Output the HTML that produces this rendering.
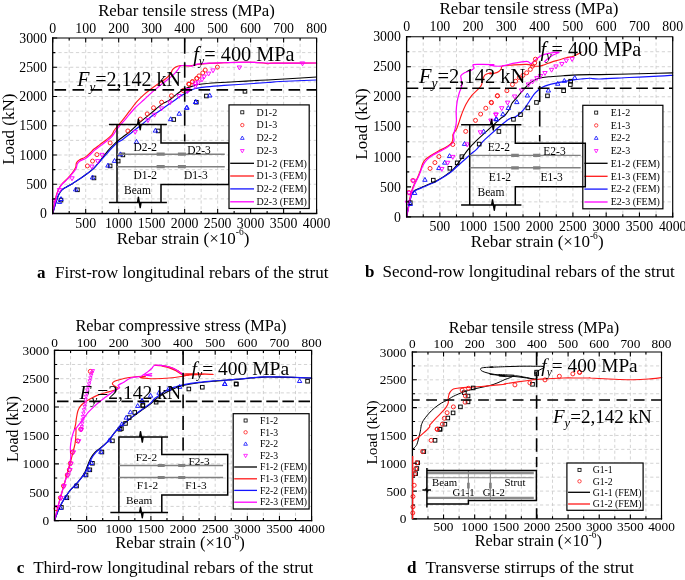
<!DOCTYPE html>
<html lang="en"><head><meta charset="utf-8"><title>Rebar strain figure</title>
<style>
html,body{margin:0;padding:0;background:#fff;}
svg{display:block;will-change:transform;}
svg text{font-family:"Liberation Serif", "Times New Roman", serif;fill:#000;}
</style></head><body>
<svg width="685" height="580" viewBox="0 0 685 580">
<rect x="0" y="0" width="685" height="580" fill="#fff"/>
<g id="panel-a">
<path d="M69.19,38 V213.5 M85.69,38 V213.5 M102.18,38 V213.5 M118.68,38 V213.5 M135.17,38 V213.5 M151.66,38 V213.5 M168.16,38 V213.5 M184.65,38 V213.5 M201.14,38 V213.5 M217.64,38 V213.5 M234.13,38 V213.5 M250.62,38 V213.5 M267.12,38 V213.5 M283.61,38 V213.5 M300.11,38 V213.5 M52.7,198.88 H316.6 M52.7,184.25 H316.6 M52.7,169.62 H316.6 M52.7,155 H316.6 M52.7,140.38 H316.6 M52.7,125.75 H316.6 M52.7,111.12 H316.6 M52.7,96.5 H316.6 M52.7,81.88 H316.6 M52.7,67.25 H316.6 M52.7,52.62 H316.6 " fill="none" stroke="#c8c8c8" stroke-width="0.8" stroke-dasharray="3.2,2.6"/>
<path d="M52.64,213.58 C52.93,212.6 53.74,209.91 54.4,207.71 C55.06,205.51 55.87,202.58 56.6,200.38 C57.33,198.18 57.94,196.23 58.8,194.52 C59.65,192.81 60.51,191.34 61.73,190.12 C62.95,188.9 64.42,188.21 66.13,187.18 C67.84,186.16 69.79,185.3 71.99,183.96 C74.19,182.61 76.88,180.78 79.33,179.12 C81.77,177.46 84.21,175.82 86.66,173.99 C89.1,172.16 91.67,170.44 93.99,168.12 C96.31,165.8 98.14,163.11 100.59,160.06 C103.03,157 106.33,152.48 108.65,149.79 C110.97,147.11 112.56,145.76 114.52,143.93 C116.47,142.1 117.91,140.79 120.38,138.8 C122.85,136.81 126.37,134.46 129.33,131.98 C132.28,129.5 135.19,126.48 138.12,123.91 C141.06,121.35 143.99,119.03 146.92,116.58 C149.85,114.14 153.03,111.45 155.72,109.25 C158.41,107.05 160.85,104.85 163.05,103.39 C165.25,101.92 166.72,101.92 168.91,100.45 C171.11,98.99 174.05,96.3 176.25,94.59 C178.45,92.88 180.16,91.36 182.11,90.19 C184.07,89.02 186.02,88.28 187.98,87.55 C189.93,86.82 192.73,86.19 193.84,85.79 C194.96,85.39 193.3,85.46 194.66,85.16 C196.02,84.86 198.33,84.38 201.99,83.99 C205.66,83.6 210.55,83.23 216.66,82.82 C222.77,82.4 231.32,81.91 238.65,81.5 C245.98,81.08 253.75,80.69 260.65,80.32 C267.54,79.96 270.67,79.85 280,79.3 C289.33,78.74 310.5,77.38 316.6,77" fill="none" stroke="#000" stroke-width="1.1" stroke-linejoin="round" stroke-linecap="round" />
<path d="M52.64,213.58 C52.93,211.87 53.74,206.49 54.4,203.31 C55.06,200.14 55.87,196.96 56.6,194.52 C57.33,192.07 57.94,190.36 58.8,188.65 C59.65,186.94 60.26,185.96 61.73,184.25 C63.2,182.54 65.88,180.22 67.6,178.39 C69.31,176.55 70.65,175.09 71.99,173.26 C73.34,171.42 74.93,169.1 75.66,167.39 C76.39,165.68 75.78,164.21 76.39,162.99 C77,161.77 77.86,161.04 79.33,160.06 C80.79,159.08 83.48,158.23 85.19,157.13 C86.9,156.03 88.12,154.8 89.59,153.46 C91.06,152.12 92.28,150.53 93.99,149.06 C95.7,147.6 97.9,146.13 99.85,144.66 C101.81,143.2 103.76,141.85 105.72,140.26 C107.67,138.68 110.09,136.88 111.58,135.13 C113.07,133.38 112.93,132.14 114.66,129.78 C116.4,127.42 119.55,124.04 121.99,120.98 C124.44,117.93 126.88,114.63 129.33,111.45 C131.77,108.27 134.21,104.73 136.66,101.92 C139.1,99.11 141.54,96.79 143.99,94.59 C146.43,92.39 148.88,90.56 151.32,88.72 C153.76,86.89 156.21,85.3 158.65,83.59 C161.09,81.88 164.03,80.05 165.98,78.46 C167.94,76.87 169.28,75.53 170.38,74.06 C171.48,72.6 171.6,70.88 172.58,69.66 C173.56,68.44 174.9,67.41 176.25,66.73 C177.59,66.05 178.69,65.68 180.65,65.56 C182.6,65.43 185.78,66.05 187.98,66 C190.18,65.95 192.24,65.54 193.84,65.26 C195.44,64.99 195.01,64.67 197.6,64.34 C200.18,64.02 204.93,63.58 209.33,63.31 C213.72,63.04 219.1,62.9 223.99,62.73 C228.88,62.56 233.76,62.36 238.65,62.29 C243.54,62.21 249.16,62.17 253.31,62.29 C257.47,62.41 261.13,62.78 263.58,63.02 C266.02,63.26 266.75,63.73 267.98,63.75 C269.2,63.78 268.91,63.26 270.91,63.17 C272.91,63.07 272.38,63.2 280,63.17 C287.62,63.14 310.5,63.03 316.6,63" fill="none" stroke="#ff1a1a" stroke-width="1.15" stroke-linejoin="round" stroke-linecap="round" />
<path d="M52.64,213.58 C52.93,212.6 53.74,209.91 54.4,207.71 C55.06,205.51 55.87,202.58 56.6,200.38 C57.33,198.18 57.94,196.23 58.8,194.52 C59.65,192.81 60.51,191.34 61.73,190.12 C62.95,188.9 64.42,188.21 66.13,187.18 C67.84,186.16 69.79,185.3 71.99,183.96 C74.19,182.61 76.88,180.78 79.33,179.12 C81.77,177.46 84.21,175.82 86.66,173.99 C89.1,172.16 91.79,170.2 93.99,168.12 C96.19,166.05 97.9,163.72 99.85,161.52 C101.81,159.33 103.76,157.13 105.72,154.93 C107.67,152.73 109.63,150.41 111.58,148.33 C113.54,146.25 115.71,143.84 117.45,142.46 C119.18,141.08 119.53,141.79 121.99,140.04 C124.46,138.3 128.84,134.67 132.26,131.98 C135.68,129.29 139.35,126.48 142.52,123.91 C145.7,121.35 148.63,118.66 151.32,116.58 C154.01,114.51 156.21,113.16 158.65,111.45 C161.09,109.74 163.54,108.03 165.98,106.32 C168.43,104.61 170.87,102.9 173.31,101.19 C175.76,99.48 178.2,97.64 180.65,96.06 C183.09,94.47 185.78,92.83 187.98,91.66 C190.18,90.48 192.24,89.61 193.84,89.02 C195.44,88.42 195.5,88.44 197.6,88.09 C199.69,87.74 201.99,87.36 206.39,86.92 C210.79,86.48 217.39,85.94 223.99,85.45 C230.59,84.97 238.65,84.48 245.98,83.99 C253.31,83.5 262.31,82.94 267.98,82.52 C273.65,82.11 271.9,81.92 280,81.5 C288.1,81.08 310.5,80.25 316.6,80" fill="none" stroke="#1414ff" stroke-width="1.2" stroke-linejoin="round" stroke-linecap="round" />
<path d="M52.64,213.58 C52.98,211.87 53.98,206.49 54.69,203.31 C55.4,200.14 56.16,196.96 56.89,194.52 C57.62,192.07 58.24,190.36 59.09,188.65 C59.95,186.94 60.56,185.91 62.02,184.25 C63.49,182.59 66.18,180.44 67.89,178.68 C69.6,176.92 70.92,175.41 72.29,173.7 C73.66,171.98 75.27,170.03 76.1,168.42 C76.93,166.8 76.61,165.24 77.27,164.02 C77.93,162.8 78.62,162.06 80.06,161.09 C81.5,160.11 84.21,159.25 85.92,158.15 C87.63,157.05 88.86,155.83 90.32,154.49 C91.79,153.14 93.01,151.55 94.72,150.09 C96.43,148.62 98.63,147.16 100.59,145.69 C102.54,144.22 104.5,142.88 106.45,141.29 C108.41,139.7 110.46,138.32 112.32,136.16 C114.17,134 115.25,131.33 117.6,128.31 C119.94,125.3 123.46,121.47 126.39,118.05 C129.33,114.63 132.26,110.84 135.19,107.79 C138.12,104.73 141.06,102.41 143.99,99.72 C146.92,97.03 149.85,94.22 152.79,91.66 C155.72,89.09 158.9,86.52 161.58,84.33 C164.27,82.13 166.72,80.29 168.91,78.46 C171.11,76.63 173.19,74.92 174.78,73.33 C176.37,71.74 177.52,70.15 178.45,68.93 C179.37,67.71 179.25,66.61 180.35,66 C181.45,65.39 183.28,65.26 185.04,65.26 C186.8,65.26 189.79,65.86 190.91,66 C192.02,66.14 190.62,66.4 191.73,66.1 C192.84,65.8 194.66,64.68 197.6,64.19 C200.53,63.7 204.93,63.41 209.33,63.17 C213.72,62.92 219.1,62.87 223.99,62.73 C228.88,62.58 233.76,62.36 238.65,62.29 C243.54,62.21 248.43,62.14 253.31,62.29 C258.2,62.43 263.53,63.02 267.98,63.17 C272.42,63.31 271.9,63.2 280,63.17 C288.1,63.14 310.5,63.03 316.6,63" fill="none" stroke="#ff00ff" stroke-width="1.2" stroke-linejoin="round" stroke-linecap="round" />
<rect x="59.2" y="198.29" width="3.6" height="3.6" fill="none" stroke="#000" stroke-width="0.95"/>
<rect x="75.62" y="188.02" width="3.6" height="3.6" fill="none" stroke="#000" stroke-width="0.95"/>
<rect x="92.19" y="176.15" width="3.6" height="3.6" fill="none" stroke="#000" stroke-width="0.95"/>
<rect x="108.32" y="164.12" width="3.6" height="3.6" fill="none" stroke="#000" stroke-width="0.95"/>
<rect x="116.38" y="159.29" width="3.6" height="3.6" fill="none" stroke="#000" stroke-width="0.95"/>
<rect x="121.07" y="153.13" width="3.6" height="3.6" fill="none" stroke="#000" stroke-width="0.95"/>
<rect x="156.41" y="129.15" width="3.6" height="3.6" fill="none" stroke="#000" stroke-width="0.95"/>
<rect x="171.95" y="117.72" width="3.6" height="3.6" fill="none" stroke="#000" stroke-width="0.95"/>
<rect x="194.53" y="100.41" width="3.6" height="3.6" fill="none" stroke="#000" stroke-width="0.95"/>
<rect x="204.59" y="94.21" width="3.6" height="3.6" fill="none" stroke="#000" stroke-width="0.95"/>
<rect x="243.16" y="89.52" width="3.6" height="3.6" fill="none" stroke="#000" stroke-width="0.95"/>
<circle cx="87.39" cy="165.92" r="2" fill="none" stroke="#ff1a1a" stroke-width="0.95"/>
<circle cx="92.52" cy="161.09" r="2" fill="none" stroke="#ff1a1a" stroke-width="0.95"/>
<circle cx="96.92" cy="154.63" r="2" fill="none" stroke="#ff1a1a" stroke-width="0.95"/>
<circle cx="110.12" cy="142.9" r="2" fill="none" stroke="#ff1a1a" stroke-width="0.95"/>
<circle cx="127.86" cy="130.95" r="2" fill="none" stroke="#ff1a1a" stroke-width="0.95"/>
<circle cx="140.32" cy="119.08" r="2" fill="none" stroke="#ff1a1a" stroke-width="0.95"/>
<circle cx="147.21" cy="113.94" r="2" fill="none" stroke="#ff1a1a" stroke-width="0.95"/>
<circle cx="153.52" cy="107.79" r="2" fill="none" stroke="#ff1a1a" stroke-width="0.95"/>
<circle cx="161.58" cy="102.21" r="2" fill="none" stroke="#ff1a1a" stroke-width="0.95"/>
<circle cx="171.41" cy="95.76" r="2" fill="none" stroke="#ff1a1a" stroke-width="0.95"/>
<circle cx="183.14" cy="90.48" r="2" fill="none" stroke="#ff1a1a" stroke-width="0.95"/>
<circle cx="189" cy="84.33" r="2" fill="none" stroke="#ff1a1a" stroke-width="0.95"/>
<circle cx="192.38" cy="81.69" r="2" fill="none" stroke="#ff1a1a" stroke-width="0.95"/>
<circle cx="196.77" cy="78.46" r="2" fill="none" stroke="#ff1a1a" stroke-width="0.95"/>
<circle cx="188.8" cy="83.99" r="2" fill="none" stroke="#ff1a1a" stroke-width="0.95"/>
<circle cx="192.46" cy="81.79" r="2" fill="none" stroke="#ff1a1a" stroke-width="0.95"/>
<circle cx="196.86" cy="78.42" r="2" fill="none" stroke="#ff1a1a" stroke-width="0.95"/>
<circle cx="199.06" cy="75.92" r="2" fill="none" stroke="#ff1a1a" stroke-width="0.95"/>
<circle cx="202.73" cy="72.99" r="2" fill="none" stroke="#ff1a1a" stroke-width="0.95"/>
<circle cx="205.22" cy="70.06" r="2" fill="none" stroke="#ff1a1a" stroke-width="0.95"/>
<circle cx="217.39" cy="67.13" r="2" fill="none" stroke="#ff1a1a" stroke-width="0.95"/>
<path d="M59.53,199.55 L61.73,203.45 L57.33,203.45 Z" fill="none" stroke="#1414ff" stroke-width="0.95"/>
<path d="M61,196.61 L63.2,200.51 L58.8,200.51 Z" fill="none" stroke="#1414ff" stroke-width="0.95"/>
<path d="M75.66,187.08 L77.86,190.98 L73.46,190.98 Z" fill="none" stroke="#1414ff" stroke-width="0.95"/>
<path d="M92.52,175.06 L94.72,178.96 L90.32,178.96 Z" fill="none" stroke="#1414ff" stroke-width="0.95"/>
<path d="M107.92,163.18 L110.12,167.08 L105.72,167.08 Z" fill="none" stroke="#1414ff" stroke-width="0.95"/>
<path d="M114.52,158.49 L116.72,162.39 L112.32,162.39 Z" fill="none" stroke="#1414ff" stroke-width="0.95"/>
<path d="M120.38,151.89 L122.58,155.79 L118.18,155.79 Z" fill="none" stroke="#1414ff" stroke-width="0.95"/>
<path d="M136.51,139.43 L138.71,143.33 L134.31,143.33 Z" fill="none" stroke="#1414ff" stroke-width="0.95"/>
<path d="M155.43,128.21 L157.63,132.11 L153.23,132.11 Z" fill="none" stroke="#1414ff" stroke-width="0.95"/>
<path d="M170.67,116.78 L172.87,120.68 L168.47,120.68 Z" fill="none" stroke="#1414ff" stroke-width="0.95"/>
<path d="M179.18,111.35 L181.38,115.25 L176.98,115.25 Z" fill="none" stroke="#1414ff" stroke-width="0.95"/>
<path d="M186.95,105.19 L189.15,109.09 L184.75,109.09 Z" fill="none" stroke="#1414ff" stroke-width="0.95"/>
<path d="M195.6,99.62 L197.8,103.52 L193.4,103.52 Z" fill="none" stroke="#1414ff" stroke-width="0.95"/>
<path d="M186.6,105.44 L188.8,109.34 L184.4,109.34 Z" fill="none" stroke="#1414ff" stroke-width="0.95"/>
<path d="M195.84,99.58 L198.04,103.48 L193.64,103.48 Z" fill="none" stroke="#1414ff" stroke-width="0.95"/>
<path d="M209.77,93.13 L211.97,97.03 L207.57,97.03 Z" fill="none" stroke="#1414ff" stroke-width="0.95"/>
<path d="M54.4,203.41 L56.6,199.51 L52.2,199.51 Z" fill="none" stroke="#ff00ff" stroke-width="0.95"/>
<path d="M59.53,192.42 L61.73,188.52 L57.33,188.52 Z" fill="none" stroke="#ff00ff" stroke-width="0.95"/>
<path d="M71.99,180.69 L74.19,176.79 L69.79,176.79 Z" fill="none" stroke="#ff00ff" stroke-width="0.95"/>
<path d="M91.79,168.96 L93.99,165.06 L89.59,165.06 Z" fill="none" stroke="#ff00ff" stroke-width="0.95"/>
<path d="M97.65,163.53 L99.85,159.63 L95.45,159.63 Z" fill="none" stroke="#ff00ff" stroke-width="0.95"/>
<path d="M102.05,157.23 L104.25,153.33 L99.85,153.33 Z" fill="none" stroke="#ff00ff" stroke-width="0.95"/>
<path d="M135.19,134.28 L137.39,130.38 L132.99,130.38 Z" fill="none" stroke="#ff00ff" stroke-width="0.95"/>
<path d="M147.95,122.55 L150.15,118.65 L145.75,118.65 Z" fill="none" stroke="#ff00ff" stroke-width="0.95"/>
<path d="M154.55,117.12 L156.75,113.22 L152.35,113.22 Z" fill="none" stroke="#ff00ff" stroke-width="0.95"/>
<path d="M161.58,110.82 L163.78,106.92 L159.38,106.92 Z" fill="none" stroke="#ff00ff" stroke-width="0.95"/>
<path d="M169.94,104.95 L172.14,101.05 L167.74,101.05 Z" fill="none" stroke="#ff00ff" stroke-width="0.95"/>
<path d="M179.18,98.36 L181.38,94.46 L176.98,94.46 Z" fill="none" stroke="#ff00ff" stroke-width="0.95"/>
<path d="M187.98,92.49 L190.18,88.59 L185.78,88.59 Z" fill="none" stroke="#ff00ff" stroke-width="0.95"/>
<path d="M195.31,85.89 L197.51,81.99 L193.11,81.99 Z" fill="none" stroke="#ff00ff" stroke-width="0.95"/>
<path d="M187.33,93.62 L189.53,89.72 L185.13,89.72 Z" fill="none" stroke="#ff00ff" stroke-width="0.95"/>
<path d="M195.4,88.49 L197.6,84.59 L193.2,84.59 Z" fill="none" stroke="#ff00ff" stroke-width="0.95"/>
<path d="M198.33,84.82 L200.53,80.92 L196.13,80.92 Z" fill="none" stroke="#ff00ff" stroke-width="0.95"/>
<path d="M201.99,81.89 L204.19,77.99 L199.79,77.99 Z" fill="none" stroke="#ff00ff" stroke-width="0.95"/>
<path d="M204.19,78.96 L206.39,75.06 L201.99,75.06 Z" fill="none" stroke="#ff00ff" stroke-width="0.95"/>
<path d="M208.59,76.02 L210.79,72.12 L206.39,72.12 Z" fill="none" stroke="#ff00ff" stroke-width="0.95"/>
<path d="M212.99,72.8 L215.19,68.9 L210.79,68.9 Z" fill="none" stroke="#ff00ff" stroke-width="0.95"/>
<path d="M239.38,69.87 L241.58,65.97 L237.18,65.97 Z" fill="none" stroke="#ff00ff" stroke-width="0.95"/>
<path d="M302.5,65.8 L304.7,61.9 L300.3,61.9 Z" fill="none" stroke="#ff00ff" stroke-width="0.95"/>
<path d="M54.5,89.9 H316.6" stroke="#000" stroke-width="1.6" stroke-dasharray="11.6,6.4" fill="none"/>
<path d="M184.7,38.2 V141.4" stroke="#000" stroke-width="1.6" stroke-dasharray="15.5,8.5" fill="none"/>
<path d="M108.9,124.5 H166.9 M117,124.5 V202.4 M108.9,202.4 H166.9 M161,124.5 V142.9 H229 V184.5 H161 V202.4" fill="none" stroke="#000" stroke-width="1.5" stroke-linejoin="miter"/>
<path d="M117,154.2 H224.8 M117,166.7 H224.8" stroke="#808080" stroke-width="1.4" fill="none"/>
<path d="M156.6,154.2 H164.7 M177.9,154.2 H185.9 M156.6,166.7 H164.7 M177.9,166.7 H185.9" stroke="#808080" stroke-width="3.2" fill="none"/>
<path d="M137.6,124.5 L138.4,119.3 L140.2,129.7 L141,124.5" fill="none" stroke="#000" stroke-width="1.5" stroke-linejoin="round"/>
<path d="M137.6,202.4 L138.4,197.2 L140.2,207.6 L141,202.4" fill="none" stroke="#000" stroke-width="1.5" stroke-linejoin="round"/>
<text x="133.4" y="150.6" font-size="11.5" text-anchor="start" >D2-2</text>
<text x="133.4" y="178.9" font-size="11.5" text-anchor="start" >D1-2</text>
<text x="124" y="193.6" font-size="11.5" text-anchor="start" >Beam</text>
<text x="187.2" y="153.7" font-size="11.5" text-anchor="start" >D2-3</text>
<text x="184" y="179.3" font-size="11.5" text-anchor="start" >D1-3</text>
<rect x="229" y="104.9" width="80.2" height="103.6" fill="#fff" stroke="#000" stroke-width="1.2"/>
<rect x="240.77" y="110.77" width="3.06" height="3.06" fill="none" stroke="#000" stroke-width="0.8"/>
<text x="256.6" y="115.6" font-size="10" text-anchor="start" >D1-2</text>
<circle cx="242.3" cy="125.1" r="1.7" fill="none" stroke="#ff1a1a" stroke-width="0.8"/>
<text x="256.6" y="128.4" font-size="10" text-anchor="start" >D1-3</text>
<path d="M242.3,136.04 L244.17,139.36 L240.43,139.36 Z" fill="none" stroke="#1414ff" stroke-width="0.8"/>
<text x="256.6" y="141.3" font-size="10" text-anchor="start" >D2-2</text>
<path d="M242.3,152.86 L244.17,149.54 L240.43,149.54 Z" fill="none" stroke="#ff00ff" stroke-width="0.8"/>
<text x="256.6" y="154.2" font-size="10" text-anchor="start" >D2-3</text>
<path d="M230.2,163.3 H254" stroke="#000" stroke-width="1.3" fill="none"/>
<text x="256.6" y="166.6" font-size="10" text-anchor="start" >D1-2 (FEM)</text>
<path d="M230.2,176 H254" stroke="#ff1a1a" stroke-width="1.3" fill="none"/>
<text x="256.6" y="179.3" font-size="10" text-anchor="start" >D1-3 (FEM)</text>
<path d="M230.2,188.9 H254" stroke="#1414ff" stroke-width="1.3" fill="none"/>
<text x="256.6" y="192.2" font-size="10" text-anchor="start" >D2-2 (FEM)</text>
<path d="M230.2,201.8 H254" stroke="#ff00ff" stroke-width="1.3" fill="none"/>
<text x="256.6" y="205.1" font-size="10" text-anchor="start" >D2-3 (FEM)</text>
<path d="M52.7,213.5 v-4.5 M52.7,38 v4.5 M69.19,213.5 v-2.6 M69.19,38 v2.6 M85.69,213.5 v-4.5 M85.69,38 v4.5 M102.18,213.5 v-2.6 M102.18,38 v2.6 M118.68,213.5 v-4.5 M118.68,38 v4.5 M135.17,213.5 v-2.6 M135.17,38 v2.6 M151.66,213.5 v-4.5 M151.66,38 v4.5 M168.16,213.5 v-2.6 M168.16,38 v2.6 M184.65,213.5 v-4.5 M184.65,38 v4.5 M201.14,213.5 v-2.6 M201.14,38 v2.6 M217.64,213.5 v-4.5 M217.64,38 v4.5 M234.13,213.5 v-2.6 M234.13,38 v2.6 M250.62,213.5 v-4.5 M250.62,38 v4.5 M267.12,213.5 v-2.6 M267.12,38 v2.6 M283.61,213.5 v-4.5 M283.61,38 v4.5 M300.11,213.5 v-2.6 M300.11,38 v2.6 M316.6,213.5 v-4.5 M316.6,38 v4.5 M52.7,213.5 h4.5 M52.7,198.88 h2.6 M52.7,184.25 h4.5 M52.7,169.62 h2.6 M52.7,155 h4.5 M52.7,140.38 h2.6 M52.7,125.75 h4.5 M52.7,111.12 h2.6 M52.7,96.5 h4.5 M52.7,81.88 h2.6 M52.7,67.25 h4.5 M52.7,52.62 h2.6 M52.7,38 h4.5 " fill="none" stroke="#000" stroke-width="1.1"/>
<path d="M52.7,38 H316.6 V213.5" fill="none" stroke="#000" stroke-width="1.15" stroke-linecap="square"/>
<path d="M52.7,38 V213.5 H316.6" fill="none" stroke="#000" stroke-width="1.3" stroke-linecap="square"/>
<text x="52.7" y="32.5" font-size="13.8" text-anchor="middle" >0</text>
<text x="85.69" y="32.5" font-size="13.8" text-anchor="middle" >100</text>
<text x="118.68" y="32.5" font-size="13.8" text-anchor="middle" >200</text>
<text x="151.66" y="32.5" font-size="13.8" text-anchor="middle" >300</text>
<text x="184.65" y="32.5" font-size="13.8" text-anchor="middle" >400</text>
<text x="217.64" y="32.5" font-size="13.8" text-anchor="middle" >500</text>
<text x="250.62" y="32.5" font-size="13.8" text-anchor="middle" >600</text>
<text x="283.61" y="32.5" font-size="13.8" text-anchor="middle" >700</text>
<text x="316.6" y="32.5" font-size="13.8" text-anchor="middle" >800</text>
<text x="85.69" y="227.8" font-size="13.8" text-anchor="middle" >500</text>
<text x="118.68" y="227.8" font-size="13.8" text-anchor="middle" >1000</text>
<text x="151.66" y="227.8" font-size="13.8" text-anchor="middle" >1500</text>
<text x="184.65" y="227.8" font-size="13.8" text-anchor="middle" >2000</text>
<text x="217.64" y="227.8" font-size="13.8" text-anchor="middle" >2500</text>
<text x="250.62" y="227.8" font-size="13.8" text-anchor="middle" >3000</text>
<text x="283.61" y="227.8" font-size="13.8" text-anchor="middle" >3500</text>
<text x="316.6" y="227.8" font-size="13.8" text-anchor="middle" >4000</text>
<text x="46.9" y="218.19" font-size="13.8" text-anchor="end" >0</text>
<text x="46.9" y="188.94" font-size="13.8" text-anchor="end" >500</text>
<text x="46.9" y="159.69" font-size="13.8" text-anchor="end" >1000</text>
<text x="46.9" y="130.44" font-size="13.8" text-anchor="end" >1500</text>
<text x="46.9" y="101.19" font-size="13.8" text-anchor="end" >2000</text>
<text x="46.9" y="71.94" font-size="13.8" text-anchor="end" >2500</text>
<text x="46.9" y="42.69" font-size="13.8" text-anchor="end" >3000</text>
<text x="193.2" y="61.4" font-size="20.3"><tspan font-style="italic">f</tspan><tspan font-style="italic" font-size="12.18" dy="4.06">y</tspan><tspan dy="-4.06">= 400 MPa</tspan></text>
<text x="77.2" y="86.1" font-size="20"><tspan font-style="italic">F</tspan><tspan font-style="italic" font-size="13.2" dy="4.4">y</tspan><tspan dy="-4.4">=2,142 kN</tspan></text>
<text x="186.5" y="16" font-size="16.8" text-anchor="middle" >Rebar tensile stress (MPa)</text>
<text x="183" y="243.5" font-size="17" text-anchor="middle">Rebar strain (×10<tspan font-size="9.5" dy="-8.5">-6</tspan><tspan dy="8.5">)</tspan></text>
<text transform="translate(14,129.2) rotate(-90)" font-size="17" text-anchor="middle">Load (kN)</text>
<text x="37" y="277.5" font-size="17"><tspan font-weight="bold">a</tspan><tspan dx="9.5">First-row longitudinal rebars of the strut</tspan></text>
</g>
<g id="panel-b">
<path d="M423.23,36.7 V216.9 M439.86,36.7 V216.9 M456.49,36.7 V216.9 M473.12,36.7 V216.9 M489.76,36.7 V216.9 M506.39,36.7 V216.9 M523.02,36.7 V216.9 M539.65,36.7 V216.9 M556.28,36.7 V216.9 M572.91,36.7 V216.9 M589.54,36.7 V216.9 M606.18,36.7 V216.9 M622.81,36.7 V216.9 M639.44,36.7 V216.9 M656.07,36.7 V216.9 M406.6,201.88 H672.7 M406.6,186.87 H672.7 M406.6,171.85 H672.7 M406.6,156.83 H672.7 M406.6,141.82 H672.7 M406.6,126.8 H672.7 M406.6,111.78 H672.7 M406.6,96.77 H672.7 M406.6,81.75 H672.7 M406.6,66.73 H672.7 M406.6,51.72 H672.7 " fill="none" stroke="#c8c8c8" stroke-width="0.8" stroke-dasharray="3.2,2.6"/>
<path d="M406.6,216.82 C406.77,215.89 407.26,213.15 407.62,211.25 C407.99,209.34 408.36,207.34 408.8,205.38 C409.24,203.43 409.78,201.42 410.26,199.52 C410.75,197.61 411.12,195.36 411.73,193.94 C412.34,192.53 412.95,191.82 413.93,191.01 C414.91,190.21 416.01,189.84 417.6,189.11 C419.18,188.37 421.51,187.44 423.46,186.61 C425.42,185.78 427.13,185.1 429.33,184.12 C431.52,183.14 434.21,182.04 436.66,180.75 C439.1,179.45 441.54,177.94 443.99,176.35 C446.43,174.76 449.36,172.85 451.32,171.22 C453.27,169.58 454.01,168.65 455.72,166.52 C457.43,164.4 459.63,161.15 461.58,158.46 C463.54,155.77 465.49,152.84 467.45,150.4 C469.4,147.95 471.6,145.63 473.31,143.8 C475.02,141.96 473.47,143.36 477.71,139.4 C481.96,135.44 494.31,124 498.8,120.04 C503.29,116.09 502.95,117.36 504.66,115.65 C506.37,113.93 508.08,111.25 509.06,109.78 C510.04,108.31 510.04,107.95 510.53,106.85 C511.02,105.75 511.02,104.65 511.99,103.18 C512.97,101.72 514.93,99.76 516.39,98.05 C517.86,96.34 519.33,94.63 520.79,92.92 C522.26,91.21 523.72,89.37 525.19,87.79 C526.66,86.2 527.88,84.73 529.59,83.39 C531.3,82.04 533.5,80.65 535.45,79.72 C537.41,78.79 539.12,78.3 541.32,77.82 C543.52,77.33 544.99,77.13 548.65,76.79 C552.32,76.45 558.43,76.08 563.31,75.76 C568.2,75.44 573.53,75.08 577.98,74.88 C582.42,74.69 586.39,74.64 590,74.59 C593.61,74.54 593.16,74.69 599.66,74.59 C606.16,74.49 619.21,74.22 628.99,74 C638.76,73.78 651.03,73.47 658.31,73.27 C665.6,73.07 670.29,72.9 672.68,72.83" fill="none" stroke="#000" stroke-width="1.1" stroke-linejoin="round" stroke-linecap="round" />
<path d="M406.6,216.82 C406.84,215.4 407.58,211.2 408.06,208.31 C408.55,205.43 408.92,202.45 409.53,199.52 C410.14,196.58 410.87,193.41 411.73,190.72 C412.59,188.03 413.69,185.59 414.66,183.39 C415.64,181.19 416.62,179.72 417.6,177.52 C418.57,175.32 419.67,172.51 420.53,170.19 C421.38,167.87 421.87,165.43 422.73,163.59 C423.58,161.76 424.32,160.54 425.66,159.19 C427,157.85 428.71,156.87 430.79,155.53 C432.87,154.18 435.68,152.47 438.12,151.13 C440.57,149.78 443.38,148.69 445.45,147.46 C447.53,146.24 449.41,144.9 450.59,143.8 C451.76,142.7 452.1,141.96 452.49,140.87 C452.88,139.77 452.83,138.29 452.93,137.2 C453.03,136.11 452.49,135.65 453.08,134.31 C453.67,132.97 455.52,131.01 456.45,129.18 C457.38,127.35 457.8,125.76 458.65,123.31 C459.51,120.87 460.36,117.69 461.58,114.52 C462.81,111.34 464.27,107.43 465.98,104.25 C467.69,101.08 469.89,97.9 471.85,95.45 C473.8,93.01 476.12,91.3 477.71,89.59 C479.3,87.88 480.52,86.9 481.38,85.19 C482.23,83.48 482.23,81.04 482.84,79.33 C483.46,77.61 483.7,76.03 485.04,74.93 C486.39,73.83 490.08,72.91 490.91,72.73 C491.74,72.55 488.93,73.91 490,73.86 C491.07,73.8 495.5,73.12 497.33,72.39 C499.16,71.66 500.14,70.51 501,69.46 C501.85,68.41 500.63,66.82 502.46,66.09 C504.3,65.35 507.96,65.35 511.99,65.06 C516.03,64.77 522.99,64.15 526.66,64.33 C530.32,64.5 531.79,65.79 533.99,66.09 C536.19,66.38 537.9,66.38 539.85,66.09 C541.81,65.79 543.76,64.99 545.72,64.33 C547.67,63.67 549.38,62.86 551.58,62.13 C553.78,61.39 556.47,60.66 558.91,59.93 C561.36,59.19 563.8,58.34 566.25,57.73 C568.69,57.12 571.38,56.99 573.58,56.26 C575.78,55.53 578.22,53.99 579.44,53.33 C580.66,52.67 580.66,52.47 580.91,52.3" fill="none" stroke="#ff1a1a" stroke-width="1.15" stroke-linejoin="round" stroke-linecap="round" />
<path d="M406.6,216.82 C406.77,215.89 407.26,213.15 407.62,211.25 C407.99,209.34 408.36,207.34 408.8,205.38 C409.24,203.43 409.78,201.35 410.26,199.52 C410.75,197.68 411.12,195.73 411.73,194.38 C412.34,193.04 412.95,192.26 413.93,191.45 C414.91,190.65 416.01,190.28 417.6,189.55 C419.18,188.81 421.51,187.88 423.46,187.05 C425.42,186.22 427.13,185.54 429.33,184.56 C431.52,183.58 434.21,182.48 436.66,181.19 C439.1,179.89 441.54,178.38 443.99,176.79 C446.43,175.2 448.88,173.61 451.32,171.66 C453.76,169.7 456.21,167.26 458.65,165.06 C461.09,162.86 463.78,160.42 465.98,158.46 C468.18,156.51 470.14,154.79 471.85,153.33 C473.56,151.86 474.78,151.13 476.25,149.66 C477.71,148.2 479.18,146.24 480.65,144.53 C482.11,142.82 480.55,143.48 485.04,139.4 C489.54,135.32 502.61,123.76 507.6,120.04 C512.58,116.33 512.73,118.33 514.93,117.11 C517.13,115.89 519.08,114.3 520.79,112.71 C522.5,111.12 523.72,109.54 525.19,107.58 C526.66,105.63 528.12,103.18 529.59,100.98 C531.06,98.78 532.52,96.22 533.99,94.38 C535.45,92.55 536.92,91.21 538.39,89.99 C539.85,88.76 541.08,87.91 542.79,87.05 C544.5,86.2 546.45,85.51 548.65,84.85 C550.85,84.19 553.54,83.63 555.98,83.09 C558.43,82.56 560.63,82.12 563.31,81.63 C566,81.14 569.18,80.6 572.11,80.16 C575.04,79.72 577.93,79.31 580.91,78.99 C583.89,78.67 586.87,78.26 590,78.26 C593.13,78.26 593.16,79.11 599.66,78.99 C606.16,78.87 619.21,77.99 628.99,77.52 C638.76,77.06 651.03,76.57 658.31,76.2 C665.6,75.84 670.29,75.47 672.68,75.32" fill="none" stroke="#1414ff" stroke-width="1.2" stroke-linejoin="round" stroke-linecap="round" />
<path d="M406.6,216.82 C406.92,215.4 407.94,211.2 408.5,208.31 C409.07,205.43 409.36,202.45 409.97,199.52 C410.58,196.58 411.31,193.41 412.17,190.72 C413.03,188.03 414.13,185.59 415.1,183.39 C416.08,181.19 417.06,179.72 418.04,177.52 C419.01,175.32 420.06,172.39 420.97,170.19 C421.87,167.99 422.43,166.09 423.46,164.33 C424.49,162.57 425.66,161.1 427.13,159.63 C428.59,158.17 430.18,156.9 432.26,155.53 C434.34,154.16 437.15,152.77 439.59,151.42 C442.03,150.08 444.97,148.69 446.92,147.46 C448.88,146.24 450.15,145.19 451.32,144.09 C452.49,142.99 453.57,142.01 453.96,140.87 C454.35,139.72 453.71,138.29 453.67,137.2 C453.62,136.11 453.32,136.14 453.67,134.31 C454.01,132.49 455.25,128.57 455.72,126.25 C456.18,123.92 456.38,122.83 456.45,120.38 C456.52,117.94 456.04,114.76 456.16,111.58 C456.28,108.41 456.65,104.5 457.18,101.32 C457.72,98.14 458.65,94.97 459.38,92.52 C460.12,90.08 461.27,88.86 461.58,86.66 C461.9,84.46 461.41,81.16 461.29,79.33 C461.17,77.49 460.31,76.76 460.85,75.66 C461.39,74.56 462.93,73.58 464.52,72.73 C466.1,71.87 468.79,71.26 470.38,70.53 C471.97,69.79 473.56,69.31 474.05,68.33 C474.54,67.35 471.97,65.32 473.31,64.66 C474.66,64 478.69,64.37 482.11,64.37 C485.53,64.37 492.53,64.47 493.84,64.66 C495.16,64.85 488.69,65.26 490,65.5 C491.31,65.74 498.06,66.4 501.73,66.09 C505.4,65.77 507.84,64.37 511.99,63.59 C516.15,62.81 523.48,61.39 526.66,61.39 C529.83,61.39 529.59,63.84 531.06,63.59 C532.52,63.35 533.74,61.27 535.45,59.93 C537.17,58.58 539.12,56.63 541.32,55.53 C543.52,54.43 545.72,53.87 548.65,53.33 C551.58,52.79 558.18,52.01 558.91,52.3 C559.65,52.6 555,53.94 553.05,55.09 C551.09,56.24 548.6,58.09 547.18,59.19 C545.77,60.29 544.99,61.27 544.55,61.69" fill="none" stroke="#ff00ff" stroke-width="1.2" stroke-linejoin="round" stroke-linecap="round" />
<rect x="408.46" y="200.94" width="3.6" height="3.6" fill="none" stroke="#000" stroke-width="0.95"/>
<rect x="431.48" y="178.36" width="3.6" height="3.6" fill="none" stroke="#000" stroke-width="0.95"/>
<rect x="448.05" y="166.48" width="3.6" height="3.6" fill="none" stroke="#000" stroke-width="0.95"/>
<rect x="455.38" y="161.06" width="3.6" height="3.6" fill="none" stroke="#000" stroke-width="0.95"/>
<rect x="460.08" y="154.9" width="3.6" height="3.6" fill="none" stroke="#000" stroke-width="0.95"/>
<rect x="477.38" y="142.29" width="3.6" height="3.6" fill="none" stroke="#000" stroke-width="0.95"/>
<rect x="511.66" y="117.51" width="3.6" height="3.6" fill="none" stroke="#000" stroke-width="0.95"/>
<rect x="518.7" y="112.82" width="3.6" height="3.6" fill="none" stroke="#000" stroke-width="0.95"/>
<rect x="526.03" y="106.07" width="3.6" height="3.6" fill="none" stroke="#000" stroke-width="0.95"/>
<rect x="534.68" y="100.65" width="3.6" height="3.6" fill="none" stroke="#000" stroke-width="0.95"/>
<rect x="545.68" y="94.05" width="3.6" height="3.6" fill="none" stroke="#000" stroke-width="0.95"/>
<rect x="561.81" y="88.92" width="3.6" height="3.6" fill="none" stroke="#000" stroke-width="0.95"/>
<rect x="568.55" y="82.76" width="3.6" height="3.6" fill="none" stroke="#000" stroke-width="0.95"/>
<rect x="568.85" y="79.39" width="3.6" height="3.6" fill="none" stroke="#000" stroke-width="0.95"/>
<rect x="497.1" y="129.7" width="3.6" height="3.6" fill="none" stroke="#000" stroke-width="0.95"/>
<circle cx="408.8" cy="192.48" r="2" fill="none" stroke="#ff1a1a" stroke-width="0.95"/>
<circle cx="412.9" cy="180.45" r="2" fill="none" stroke="#ff1a1a" stroke-width="0.95"/>
<circle cx="430.06" cy="168.43" r="2" fill="none" stroke="#ff1a1a" stroke-width="0.95"/>
<circle cx="434.9" cy="162.57" r="2" fill="none" stroke="#ff1a1a" stroke-width="0.95"/>
<circle cx="438.86" cy="156.55" r="2" fill="none" stroke="#ff1a1a" stroke-width="0.95"/>
<circle cx="452.79" cy="144.53" r="2" fill="none" stroke="#ff1a1a" stroke-width="0.95"/>
<circle cx="465.69" cy="131.38" r="2" fill="none" stroke="#ff1a1a" stroke-width="0.95"/>
<circle cx="475.51" cy="120.38" r="2" fill="none" stroke="#ff1a1a" stroke-width="0.95"/>
<circle cx="480.65" cy="114.08" r="2" fill="none" stroke="#ff1a1a" stroke-width="0.95"/>
<circle cx="485.78" cy="108.21" r="2" fill="none" stroke="#ff1a1a" stroke-width="0.95"/>
<circle cx="491.2" cy="102.35" r="2" fill="none" stroke="#ff1a1a" stroke-width="0.95"/>
<circle cx="497.51" cy="95.75" r="2" fill="none" stroke="#ff1a1a" stroke-width="0.95"/>
<circle cx="491.47" cy="102.74" r="2" fill="none" stroke="#ff1a1a" stroke-width="0.95"/>
<circle cx="497.33" cy="95.85" r="2" fill="none" stroke="#ff1a1a" stroke-width="0.95"/>
<circle cx="506.86" cy="90.72" r="2" fill="none" stroke="#ff1a1a" stroke-width="0.95"/>
<circle cx="512.43" cy="84.56" r="2" fill="none" stroke="#ff1a1a" stroke-width="0.95"/>
<circle cx="515.66" cy="81.19" r="2" fill="none" stroke="#ff1a1a" stroke-width="0.95"/>
<circle cx="519.33" cy="77.52" r="2" fill="none" stroke="#ff1a1a" stroke-width="0.95"/>
<circle cx="522.99" cy="75.32" r="2" fill="none" stroke="#ff1a1a" stroke-width="0.95"/>
<circle cx="526.66" cy="72.83" r="2" fill="none" stroke="#ff1a1a" stroke-width="0.95"/>
<circle cx="530.32" cy="69.46" r="2" fill="none" stroke="#ff1a1a" stroke-width="0.95"/>
<circle cx="532.52" cy="66.09" r="2" fill="none" stroke="#ff1a1a" stroke-width="0.95"/>
<circle cx="534.72" cy="62.86" r="2" fill="none" stroke="#ff1a1a" stroke-width="0.95"/>
<circle cx="535.45" cy="59.19" r="2" fill="none" stroke="#ff1a1a" stroke-width="0.95"/>
<path d="M410.26,201.61 L412.46,205.51 L408.06,205.51 Z" fill="none" stroke="#1414ff" stroke-width="0.95"/>
<path d="M414.66,190.62 L416.86,194.52 L412.46,194.52 Z" fill="none" stroke="#1414ff" stroke-width="0.95"/>
<path d="M424.93,177.42 L427.13,181.32 L422.73,181.32 Z" fill="none" stroke="#1414ff" stroke-width="0.95"/>
<path d="M438.86,165.69 L441.06,169.59 L436.66,169.59 Z" fill="none" stroke="#1414ff" stroke-width="0.95"/>
<path d="M444.72,160.27 L446.92,164.17 L442.52,164.17 Z" fill="none" stroke="#1414ff" stroke-width="0.95"/>
<path d="M449.56,153.67 L451.76,157.57 L447.36,157.57 Z" fill="none" stroke="#1414ff" stroke-width="0.95"/>
<path d="M464.52,141.5 L466.72,145.4 L462.32,145.4 Z" fill="none" stroke="#1414ff" stroke-width="0.95"/>
<path d="M496.04,116.61 L498.24,120.51 L493.84,120.51 Z" fill="none" stroke="#1414ff" stroke-width="0.95"/>
<path d="M496.6,117.01 L498.8,120.91 L494.4,120.91 Z" fill="none" stroke="#1414ff" stroke-width="0.95"/>
<path d="M502.9,111.88 L505.1,115.78 L500.7,115.78 Z" fill="none" stroke="#1414ff" stroke-width="0.95"/>
<path d="M508.33,105.57 L510.53,109.47 L506.13,109.47 Z" fill="none" stroke="#1414ff" stroke-width="0.95"/>
<path d="M516.83,99.71 L519.03,103.61 L514.63,103.61 Z" fill="none" stroke="#1414ff" stroke-width="0.95"/>
<path d="M527.39,93.11 L529.59,97.01 L525.19,97.01 Z" fill="none" stroke="#1414ff" stroke-width="0.95"/>
<path d="M548.36,88.13 L550.56,92.03 L546.16,92.03 Z" fill="none" stroke="#1414ff" stroke-width="0.95"/>
<path d="M557.74,81.38 L559.94,85.28 L555.54,85.28 Z" fill="none" stroke="#1414ff" stroke-width="0.95"/>
<path d="M564.34,78.45 L566.54,82.35 L562.14,82.35 Z" fill="none" stroke="#1414ff" stroke-width="0.95"/>
<path d="M574.75,75.52 L576.95,79.42 L572.55,79.42 Z" fill="none" stroke="#1414ff" stroke-width="0.95"/>
<path d="M483.6,129.2 L485.8,133.1 L481.4,133.1 Z" fill="none" stroke="#1414ff" stroke-width="0.95"/>
<path d="M407.33,205.04 L409.53,201.14 L405.13,201.14 Z" fill="none" stroke="#ff00ff" stroke-width="0.95"/>
<path d="M409.09,195.22 L411.29,191.32 L406.89,191.32 Z" fill="none" stroke="#ff00ff" stroke-width="0.95"/>
<path d="M413.2,183.19 L415.4,179.29 L411,179.29 Z" fill="none" stroke="#ff00ff" stroke-width="0.95"/>
<path d="M441.79,171.32 L443.99,167.42 L439.59,167.42 Z" fill="none" stroke="#ff00ff" stroke-width="0.95"/>
<path d="M447.65,165.16 L449.85,161.26 L445.45,161.26 Z" fill="none" stroke="#ff00ff" stroke-width="0.95"/>
<path d="M452.79,159.29 L454.99,155.39 L450.59,155.39 Z" fill="none" stroke="#ff00ff" stroke-width="0.95"/>
<path d="M467.16,146.83 L469.36,142.93 L464.96,142.93 Z" fill="none" stroke="#ff00ff" stroke-width="0.95"/>
<path d="M480.35,134.7 L482.55,130.8 L478.15,130.8 Z" fill="none" stroke="#ff00ff" stroke-width="0.95"/>
<path d="M490.91,122.97 L493.11,119.07 L488.71,119.07 Z" fill="none" stroke="#ff00ff" stroke-width="0.95"/>
<path d="M496.04,116.82 L498.24,112.92 L493.84,112.92 Z" fill="none" stroke="#ff00ff" stroke-width="0.95"/>
<path d="M495.87,117.21 L498.07,113.31 L493.67,113.31 Z" fill="none" stroke="#ff00ff" stroke-width="0.95"/>
<path d="M501.73,110.61 L503.93,106.71 L499.53,106.71 Z" fill="none" stroke="#ff00ff" stroke-width="0.95"/>
<path d="M507.6,105.04 L509.8,101.14 L505.4,101.14 Z" fill="none" stroke="#ff00ff" stroke-width="0.95"/>
<path d="M514.63,98.88 L516.83,94.98 L512.43,94.98 Z" fill="none" stroke="#ff00ff" stroke-width="0.95"/>
<path d="M521.52,92.73 L523.72,88.83 L519.32,88.83 Z" fill="none" stroke="#ff00ff" stroke-width="0.95"/>
<path d="M528.42,86.86 L530.62,82.96 L526.22,82.96 Z" fill="none" stroke="#ff00ff" stroke-width="0.95"/>
<path d="M532.52,83.93 L534.72,80.03 L530.32,80.03 Z" fill="none" stroke="#ff00ff" stroke-width="0.95"/>
<path d="M536.92,80.56 L539.12,76.66 L534.72,76.66 Z" fill="none" stroke="#ff00ff" stroke-width="0.95"/>
<path d="M540.59,78.36 L542.79,74.46 L538.39,74.46 Z" fill="none" stroke="#ff00ff" stroke-width="0.95"/>
<path d="M544.99,75.42 L547.19,71.52 L542.79,71.52 Z" fill="none" stroke="#ff00ff" stroke-width="0.95"/>
<path d="M551.58,72.2 L553.78,68.3 L549.38,68.3 Z" fill="none" stroke="#ff00ff" stroke-width="0.95"/>
<path d="M555.98,68.82 L558.18,64.92 L553.78,64.92 Z" fill="none" stroke="#ff00ff" stroke-width="0.95"/>
<path d="M561.85,66.33 L564.05,62.43 L559.65,62.43 Z" fill="none" stroke="#ff00ff" stroke-width="0.95"/>
<path d="M566.25,62.96 L568.45,59.06 L564.05,59.06 Z" fill="none" stroke="#ff00ff" stroke-width="0.95"/>
<path d="M572.11,61.49 L574.31,57.59 L569.91,57.59 Z" fill="none" stroke="#ff00ff" stroke-width="0.95"/>
<path d="M406.6,88.2 H672.7" stroke="#000" stroke-width="1.6" stroke-dasharray="11.7,4.7" fill="none"/>
<path d="M539.7,36.7 V141.5" stroke="#000" stroke-width="1.6" stroke-dasharray="16,8.6" fill="none"/>
<rect x="582.8" y="105.3" width="80.1" height="103.5" fill="#fff" stroke="#000" stroke-width="1.2"/>
<rect x="594.67" y="111.07" width="3.06" height="3.06" fill="none" stroke="#000" stroke-width="0.8"/>
<text x="610.7" y="115.9" font-size="10" text-anchor="start" >E1-2</text>
<circle cx="596.2" cy="125.4" r="1.7" fill="none" stroke="#ff1a1a" stroke-width="0.8"/>
<text x="610.7" y="128.7" font-size="10" text-anchor="start" >E1-3</text>
<path d="M596.2,136.04 L598.07,139.36 L594.33,139.36 Z" fill="none" stroke="#1414ff" stroke-width="0.8"/>
<text x="610.7" y="141.3" font-size="10" text-anchor="start" >E2-2</text>
<path d="M596.2,152.86 L598.07,149.54 L594.33,149.54 Z" fill="none" stroke="#ff00ff" stroke-width="0.8"/>
<text x="610.7" y="154.2" font-size="10" text-anchor="start" >E2-3</text>
<path d="M584.4,163.3 H607.6" stroke="#000" stroke-width="1.3" fill="none"/>
<text x="610.7" y="166.6" font-size="10" text-anchor="start" >E1-2 (FEM)</text>
<path d="M584.4,176.3 H607.6" stroke="#ff1a1a" stroke-width="1.3" fill="none"/>
<text x="610.7" y="179.6" font-size="10" text-anchor="start" >E1-3 (FEM)</text>
<path d="M584.4,189.1 H607.6" stroke="#1414ff" stroke-width="1.3" fill="none"/>
<text x="610.7" y="192.4" font-size="10" text-anchor="start" >E2-2 (FEM)</text>
<path d="M584.4,202 H607.6" stroke="#ff00ff" stroke-width="1.3" fill="none"/>
<text x="610.7" y="205.3" font-size="10" text-anchor="start" >E2-3 (FEM)</text>
<path d="M461.1,124.7 H521.4 M469.7,124.7 V205 M461.1,205 H521.4 M515.3,124.7 V143.3 H585.3 V186.7 H515.3 V205" fill="none" stroke="#000" stroke-width="1.5" stroke-linejoin="miter"/>
<path d="M469.7,155.4 H580.7 M469.7,167.8 H580.7" stroke="#808080" stroke-width="1.4" fill="none"/>
<path d="M511.2,155.4 H518.8 M533.1,155.4 H540.4 M511.2,167.8 H518.8 M533.1,167.8 H540.4" stroke="#808080" stroke-width="3.2" fill="none"/>
<path d="M490.7,124.7 L491.5,119.5 L493.3,129.9 L494.1,124.7" fill="none" stroke="#000" stroke-width="1.5" stroke-linejoin="round"/>
<path d="M491.7,205 L492.5,199.8 L494.3,210.2 L495.1,205" fill="none" stroke="#000" stroke-width="1.5" stroke-linejoin="round"/>
<text x="487.7" y="150.9" font-size="11.5" text-anchor="start" >E2-2</text>
<text x="488.7" y="180.5" font-size="11.5" text-anchor="start" >E1-2</text>
<text x="477.5" y="195.8" font-size="11.5" text-anchor="start" >Beam</text>
<text x="543.3" y="154.6" font-size="11.5" text-anchor="start" >E2-3</text>
<text x="540.4" y="180.5" font-size="11.5" text-anchor="start" >E1-3</text>
<path d="M406.6,216.9 v-4.5 M406.6,36.7 v4.5 M423.23,216.9 v-2.6 M423.23,36.7 v2.6 M439.86,216.9 v-4.5 M439.86,36.7 v4.5 M456.49,216.9 v-2.6 M456.49,36.7 v2.6 M473.12,216.9 v-4.5 M473.12,36.7 v4.5 M489.76,216.9 v-2.6 M489.76,36.7 v2.6 M506.39,216.9 v-4.5 M506.39,36.7 v4.5 M523.02,216.9 v-2.6 M523.02,36.7 v2.6 M539.65,216.9 v-4.5 M539.65,36.7 v4.5 M556.28,216.9 v-2.6 M556.28,36.7 v2.6 M572.91,216.9 v-4.5 M572.91,36.7 v4.5 M589.54,216.9 v-2.6 M589.54,36.7 v2.6 M606.18,216.9 v-4.5 M606.18,36.7 v4.5 M622.81,216.9 v-2.6 M622.81,36.7 v2.6 M639.44,216.9 v-4.5 M639.44,36.7 v4.5 M656.07,216.9 v-2.6 M656.07,36.7 v2.6 M672.7,216.9 v-4.5 M672.7,36.7 v4.5 M406.6,216.9 h4.5 M406.6,201.88 h2.6 M406.6,186.87 h4.5 M406.6,171.85 h2.6 M406.6,156.83 h4.5 M406.6,141.82 h2.6 M406.6,126.8 h4.5 M406.6,111.78 h2.6 M406.6,96.77 h4.5 M406.6,81.75 h2.6 M406.6,66.73 h4.5 M406.6,51.72 h2.6 M406.6,36.7 h4.5 " fill="none" stroke="#000" stroke-width="1.1"/>
<path d="M406.6,36.7 H672.7 V216.9" fill="none" stroke="#000" stroke-width="1.15" stroke-linecap="square"/>
<path d="M406.6,36.7 V216.9 H672.7" fill="none" stroke="#000" stroke-width="1.3" stroke-linecap="square"/>
<text x="406.6" y="31.2" font-size="13.8" text-anchor="middle" >0</text>
<text x="439.86" y="31.2" font-size="13.8" text-anchor="middle" >100</text>
<text x="473.12" y="31.2" font-size="13.8" text-anchor="middle" >200</text>
<text x="506.39" y="31.2" font-size="13.8" text-anchor="middle" >300</text>
<text x="539.65" y="31.2" font-size="13.8" text-anchor="middle" >400</text>
<text x="572.91" y="31.2" font-size="13.8" text-anchor="middle" >500</text>
<text x="606.18" y="31.2" font-size="13.8" text-anchor="middle" >600</text>
<text x="639.44" y="31.2" font-size="13.8" text-anchor="middle" >700</text>
<text x="672.7" y="31.2" font-size="13.8" text-anchor="middle" >800</text>
<text x="439.86" y="231.2" font-size="13.8" text-anchor="middle" >500</text>
<text x="473.12" y="231.2" font-size="13.8" text-anchor="middle" >1000</text>
<text x="506.39" y="231.2" font-size="13.8" text-anchor="middle" >1500</text>
<text x="539.65" y="231.2" font-size="13.8" text-anchor="middle" >2000</text>
<text x="572.91" y="231.2" font-size="13.8" text-anchor="middle" >2500</text>
<text x="606.18" y="231.2" font-size="13.8" text-anchor="middle" >3000</text>
<text x="639.44" y="231.2" font-size="13.8" text-anchor="middle" >3500</text>
<text x="672.7" y="231.2" font-size="13.8" text-anchor="middle" >4000</text>
<text x="400.8" y="221.59" font-size="13.8" text-anchor="end" >0</text>
<text x="400.8" y="191.56" font-size="13.8" text-anchor="end" >500</text>
<text x="400.8" y="161.53" font-size="13.8" text-anchor="end" >1000</text>
<text x="400.8" y="131.49" font-size="13.8" text-anchor="end" >1500</text>
<text x="400.8" y="101.46" font-size="13.8" text-anchor="end" >2000</text>
<text x="400.8" y="71.43" font-size="13.8" text-anchor="end" >2500</text>
<text x="400.8" y="41.39" font-size="13.8" text-anchor="end" >3000</text>
<text x="540.6" y="55.8" font-size="20.15"><tspan font-style="italic">f</tspan><tspan font-style="italic" font-size="12.09" dy="4.03">y</tspan><tspan dy="-4.03">= 400 MPa</tspan></text>
<text x="419" y="83.2" font-size="20.5"><tspan font-style="italic">F</tspan><tspan font-style="italic" font-size="13.53" dy="4.51">y</tspan><tspan dy="-4.51">=2,142 kN</tspan></text>
<text x="529" y="14" font-size="17" text-anchor="middle" >Rebar tensile stress (MPa)</text>
<text x="537.2" y="247.2" font-size="17" text-anchor="middle">Rebar strain (×10<tspan font-size="9.5" dy="-8.5">-6</tspan><tspan dy="8.5">)</tspan></text>
<text transform="translate(366.5,124) rotate(-90)" font-size="17" text-anchor="middle">Load (kN)</text>
<text x="365" y="277.3" font-size="17"><tspan font-weight="bold">b</tspan><tspan dx="8">Second-row longitudinal rebars of the strut</tspan></text>
</g>
<g id="panel-c">
<path d="M70.57,350.3 V520.6 M86.64,350.3 V520.6 M102.71,350.3 V520.6 M118.78,350.3 V520.6 M134.84,350.3 V520.6 M150.91,350.3 V520.6 M166.98,350.3 V520.6 M183.05,350.3 V520.6 M199.12,350.3 V520.6 M215.19,350.3 V520.6 M231.26,350.3 V520.6 M247.33,350.3 V520.6 M263.39,350.3 V520.6 M279.46,350.3 V520.6 M295.53,350.3 V520.6 M54.5,506.41 H311.6 M54.5,492.22 H311.6 M54.5,478.03 H311.6 M54.5,463.83 H311.6 M54.5,449.64 H311.6 M54.5,435.45 H311.6 M54.5,421.26 H311.6 M54.5,407.07 H311.6 M54.5,392.88 H311.6 M54.5,378.68 H311.6 M54.5,364.49 H311.6 " fill="none" stroke="#c8c8c8" stroke-width="0.8" stroke-dasharray="3.2,2.6"/>
<path d="M54.48,520.52 C55.17,518.68 57.36,512.47 58.62,509.48 C59.89,506.49 60.78,504.89 62.07,502.59 C63.36,500.29 64.94,497.84 66.38,495.69 C67.82,493.53 69.11,491.52 70.69,489.66 C72.27,487.79 74.14,486.41 75.86,484.48 C77.59,482.56 79.51,480.2 81.03,478.1 C82.56,476.01 83.94,473.91 85,471.9 C86.06,469.89 86.47,468.3 87.41,466.03 C88.36,463.76 89.4,460.57 90.69,458.28 C91.98,455.98 93.39,454.08 95.17,452.24 C96.95,450.4 99.14,449.2 101.38,447.24 C103.62,445.29 106.55,442.79 108.62,440.52 C110.69,438.25 112.07,435.78 113.79,433.62 C115.52,431.47 117.38,429.16 118.97,427.59 C120.55,426.01 121.12,425.92 123.31,424.18 C125.5,422.44 129.18,419.39 132.11,417.14 C135.04,414.89 137.93,412.82 140.91,410.69 C143.89,408.56 147.71,406.17 150,404.38 C152.29,402.6 152.66,401.57 154.66,399.99 C156.66,398.4 159.55,396.39 161.99,394.85 C164.44,393.31 166.88,391.97 169.33,390.75 C171.77,389.53 174.21,388.43 176.66,387.52 C179.1,386.62 180.32,386.1 183.99,385.32 C187.65,384.54 193.76,383.51 198.65,382.83 C203.54,382.15 208.43,381.68 213.31,381.22 C218.2,380.75 223.53,380.39 227.98,380.04 C232.42,379.7 236.44,379.48 240,379.16 C243.56,378.85 245.33,378.48 249.33,378.14 C253.32,377.8 259.1,377.28 263.99,377.11 C268.88,376.94 273.76,377.06 278.65,377.11 C283.54,377.16 287.82,377.23 293.31,377.4 C298.81,377.58 308.59,378.02 311.64,378.14" fill="none" stroke="#000" stroke-width="1.1" stroke-linejoin="round" stroke-linecap="round" />
<path d="M54.48,520.52 C54.89,518.97 56.06,514.48 56.9,511.21 C57.73,507.93 58.48,504.6 59.48,500.86 C60.49,497.13 61.78,492.82 62.93,488.79 C64.08,484.77 65.23,480.75 66.38,476.72 C67.53,472.7 68.82,468.39 69.83,464.66 C70.83,460.92 71.55,457.76 72.41,454.31 C73.28,450.86 74.43,447.13 75,443.97 C75.57,440.8 75.72,437.93 75.86,435.34 C76.01,432.76 76.09,429.45 75.86,428.45 C75.63,427.44 74.52,430.02 74.49,429.31 C74.45,428.6 75.34,426.01 75.66,424.18 C75.98,422.35 76.03,420.51 76.39,418.31 C76.76,416.11 77.25,412.94 77.86,410.98 C78.47,409.03 79.08,407.93 80.06,406.58 C81.04,405.24 82.14,404.14 83.72,402.92 C85.31,401.7 87.15,400.6 89.59,399.25 C92.03,397.91 95.21,396.08 98.39,394.85 C101.56,393.63 105.72,392.78 108.65,391.92 C111.58,391.07 114.39,390.33 115.98,389.72 C117.57,389.11 118.43,388.87 118.18,388.26 C117.94,387.64 115.49,386.79 114.52,386.06 C113.54,385.32 112.32,384.64 112.32,383.86 C112.32,383.07 113.17,382.1 114.52,381.36 C115.86,380.63 117.94,380.09 120.38,379.46 C122.83,378.82 126.25,378.04 129.18,377.55 C132.11,377.06 135.29,376.7 137.98,376.52 C140.66,376.35 144.97,376.35 145.31,376.52 C145.65,376.7 139.66,377.23 140,377.55 C140.34,377.87 144.89,378.24 147.33,378.43 C149.78,378.63 151,378.8 154.66,378.72 C158.33,378.65 164.93,378.36 169.33,377.99 C173.72,377.62 177.88,377.01 181.06,376.52 C184.23,376.04 184.97,375.43 188.39,375.06 C191.81,374.69 197.43,374.45 201.58,374.33 C205.74,374.2 213.31,374.42 213.31,374.33 C213.31,374.23 205.74,373.81 201.58,373.74 C197.43,373.67 191.56,373.89 188.39,373.89 C185.21,373.89 184.11,374.15 182.52,373.74 C180.93,373.32 180.32,372.27 178.86,371.39 C177.39,370.51 175.43,369.24 173.72,368.46 C172.01,367.68 170.55,367.17 168.59,366.7 C166.64,366.24 164.32,365.92 161.99,365.67 C159.67,365.43 155.88,365.31 154.66,365.23" fill="none" stroke="#ff1a1a" stroke-width="1.15" stroke-linejoin="round" stroke-linecap="round" />
<path d="M161.99,365.97 C163.22,366.29 167,367.07 169.33,367.87 C171.65,368.68 173.72,369.66 175.92,370.81 C178.12,371.96 180.44,374.06 182.52,374.77 C184.6,375.47 187.41,375.01 188.39,375.06" fill="none" stroke="#ff1a1a" stroke-width="1.15" stroke-linejoin="round" stroke-linecap="round" />
<path d="M54.48,520.52 C55.17,518.68 57.36,512.47 58.62,509.48 C59.89,506.49 60.78,504.89 62.07,502.59 C63.36,500.29 64.94,497.84 66.38,495.69 C67.82,493.53 69.11,491.52 70.69,489.66 C72.27,487.79 74.14,486.35 75.86,484.48 C77.59,482.61 79.45,480.46 81.03,478.45 C82.61,476.44 84.2,474.43 85.34,472.41 C86.49,470.4 86.93,468.68 87.93,466.38 C88.94,464.08 90.09,460.92 91.38,458.62 C92.67,456.32 93.97,454.45 95.69,452.59 C97.41,450.72 99.57,449.43 101.72,447.41 C103.88,445.4 106.61,442.82 108.62,440.52 C110.63,438.22 112.07,435.78 113.79,433.62 C115.52,431.47 117.38,429.16 118.97,427.59 C120.55,426.01 121.12,425.97 123.31,424.18 C125.5,422.39 129.18,419.17 132.11,416.85 C135.04,414.53 137.93,412.45 140.91,410.25 C143.89,408.05 147.71,405.61 150,403.65 C152.29,401.7 152.66,400.23 154.66,398.52 C156.66,396.81 159.55,394.98 161.99,393.39 C164.44,391.8 166.88,390.14 169.33,388.99 C171.77,387.84 174.21,387.23 176.66,386.5 C179.1,385.76 180.32,385.27 183.99,384.59 C187.65,383.91 193.76,383 198.65,382.39 C203.54,381.78 208.43,381.34 213.31,380.92 C218.2,380.51 223.53,380.22 227.98,379.9 C232.42,379.58 236.44,379.34 240,379.02 C243.56,378.7 245.33,378.33 249.33,377.99 C253.32,377.65 259.1,377.14 263.99,376.96 C268.88,376.79 273.76,376.92 278.65,376.96 C283.54,377.01 287.82,377.09 293.31,377.26 C298.81,377.43 308.59,377.87 311.64,377.99" fill="none" stroke="#1414ff" stroke-width="1.2" stroke-linejoin="round" stroke-linecap="round" />
<path d="M54.48,520.52 C54.89,518.97 56.06,514.48 56.9,511.21 C57.73,507.93 58.48,504.6 59.48,500.86 C60.49,497.13 61.78,492.82 62.93,488.79 C64.08,484.77 65.37,480.46 66.38,476.72 C67.39,472.99 68.25,469.54 68.97,466.38 C69.68,463.22 70.46,460.92 70.69,457.76 C70.92,454.6 70.2,450.57 70.34,447.41 C70.49,444.25 70.92,441.67 71.55,438.79 C72.18,435.92 73.53,431.75 74.14,430.17 C74.75,428.59 74.36,430.31 75.22,429.31 C76.08,428.31 77.91,426.01 79.33,424.18 C80.74,422.35 82.26,420.27 83.72,418.31 C85.19,416.36 86.41,414.4 88.12,412.45 C89.83,410.49 92.03,408.42 93.99,406.58 C95.94,404.75 97.9,403.04 99.85,401.45 C101.81,399.86 103.76,398.52 105.72,397.05 C107.67,395.59 109.63,394 111.58,392.65 C113.54,391.31 116.1,389.84 117.45,388.99 C118.79,388.13 119.53,388.13 119.65,387.52 C119.77,386.91 117.57,386.18 118.18,385.32 C118.79,384.47 121.48,383.49 123.31,382.39 C125.15,381.29 127.47,379.58 129.18,378.72 C130.89,377.87 131.62,377.62 133.58,377.26 C135.53,376.89 139.35,376.89 140.91,376.52 C142.47,376.16 141.86,375.79 142.93,375.06 C144,374.33 145.87,373.23 147.33,372.13 C148.8,371.03 150.51,369.61 151.73,368.46 C152.95,367.31 152.95,365.72 154.66,365.23 C156.37,364.75 159.55,365.23 161.99,365.53 C164.44,365.82 167.13,366.38 169.33,366.99 C171.52,367.61 173.48,368.34 175.19,369.19 C176.9,370.05 178.37,371.27 179.59,372.13 C180.81,372.98 182.03,373.96 182.52,374.33" fill="none" stroke="#ff00ff" stroke-width="1.2" stroke-linejoin="round" stroke-linecap="round" />
<path d="M151.73,373.59 L144.4,375.06 L151.73,375.79" fill="none" stroke="#ff00ff" stroke-width="1.2" stroke-linejoin="round" stroke-linecap="round" />
<rect x="59.58" y="505.61" width="3.6" height="3.6" fill="none" stroke="#000" stroke-width="0.95"/>
<rect x="65.1" y="495.96" width="3.6" height="3.6" fill="none" stroke="#000" stroke-width="0.95"/>
<rect x="74.75" y="484.23" width="3.6" height="3.6" fill="none" stroke="#000" stroke-width="0.95"/>
<rect x="84.23" y="473.2" width="3.6" height="3.6" fill="none" stroke="#000" stroke-width="0.95"/>
<rect x="88.03" y="468.03" width="3.6" height="3.6" fill="none" stroke="#000" stroke-width="0.95"/>
<rect x="90.61" y="461.48" width="3.6" height="3.6" fill="none" stroke="#000" stroke-width="0.95"/>
<rect x="100.1" y="450.27" width="3.6" height="3.6" fill="none" stroke="#000" stroke-width="0.95"/>
<rect x="110.61" y="439.06" width="3.6" height="3.6" fill="none" stroke="#000" stroke-width="0.95"/>
<rect x="118.2" y="427.51" width="3.6" height="3.6" fill="none" stroke="#000" stroke-width="0.95"/>
<rect x="119.61" y="426.78" width="3.6" height="3.6" fill="none" stroke="#000" stroke-width="0.95"/>
<rect x="123.71" y="421.65" width="3.6" height="3.6" fill="none" stroke="#000" stroke-width="0.95"/>
<rect x="127.38" y="415.78" width="3.6" height="3.6" fill="none" stroke="#000" stroke-width="0.95"/>
<rect x="132.95" y="410.65" width="3.6" height="3.6" fill="none" stroke="#000" stroke-width="0.95"/>
<rect x="140.87" y="404.05" width="3.6" height="3.6" fill="none" stroke="#000" stroke-width="0.95"/>
<rect x="141.13" y="403.32" width="3.6" height="3.6" fill="none" stroke="#000" stroke-width="0.95"/>
<rect x="154.33" y="400.38" width="3.6" height="3.6" fill="none" stroke="#000" stroke-width="0.95"/>
<rect x="187.03" y="387.19" width="3.6" height="3.6" fill="none" stroke="#000" stroke-width="0.95"/>
<rect x="200.52" y="385.43" width="3.6" height="3.6" fill="none" stroke="#000" stroke-width="0.95"/>
<rect x="234.24" y="382.06" width="3.6" height="3.6" fill="none" stroke="#000" stroke-width="0.95"/>
<rect x="234.62" y="382.35" width="3.6" height="3.6" fill="none" stroke="#000" stroke-width="0.95"/>
<rect x="305.74" y="379.42" width="3.6" height="3.6" fill="none" stroke="#000" stroke-width="0.95"/>
<circle cx="56.03" cy="508.62" r="2" fill="none" stroke="#ff1a1a" stroke-width="0.95"/>
<circle cx="60.34" cy="497.76" r="2" fill="none" stroke="#ff1a1a" stroke-width="0.95"/>
<circle cx="63.45" cy="485.86" r="2" fill="none" stroke="#ff1a1a" stroke-width="0.95"/>
<circle cx="67.24" cy="475" r="2" fill="none" stroke="#ff1a1a" stroke-width="0.95"/>
<circle cx="69.31" cy="469.83" r="2" fill="none" stroke="#ff1a1a" stroke-width="0.95"/>
<circle cx="70.34" cy="463.28" r="2" fill="none" stroke="#ff1a1a" stroke-width="0.95"/>
<circle cx="72.41" cy="452.07" r="2" fill="none" stroke="#ff1a1a" stroke-width="0.95"/>
<circle cx="77.59" cy="440.86" r="2" fill="none" stroke="#ff1a1a" stroke-width="0.95"/>
<circle cx="80.69" cy="429.31" r="2" fill="none" stroke="#ff1a1a" stroke-width="0.95"/>
<circle cx="90.32" cy="371.39" r="2" fill="none" stroke="#ff1a1a" stroke-width="0.95"/>
<path d="M60.34,505.46 L62.54,509.36 L58.14,509.36 Z" fill="none" stroke="#1414ff" stroke-width="0.95"/>
<path d="M65.86,495.11 L68.06,499.01 L63.66,499.01 Z" fill="none" stroke="#1414ff" stroke-width="0.95"/>
<path d="M75.52,483.39 L77.72,487.29 L73.32,487.29 Z" fill="none" stroke="#1414ff" stroke-width="0.95"/>
<path d="M85,472.36 L87.2,476.26 L82.8,476.26 Z" fill="none" stroke="#1414ff" stroke-width="0.95"/>
<path d="M88.79,467.18 L90.99,471.08 L86.59,471.08 Z" fill="none" stroke="#1414ff" stroke-width="0.95"/>
<path d="M91.38,460.63 L93.58,464.53 L89.18,464.53 Z" fill="none" stroke="#1414ff" stroke-width="0.95"/>
<path d="M100.86,449.42 L103.06,453.32 L98.66,453.32 Z" fill="none" stroke="#1414ff" stroke-width="0.95"/>
<path d="M109.48,437.87 L111.68,441.77 L107.28,441.77 Z" fill="none" stroke="#1414ff" stroke-width="0.95"/>
<path d="M118.97,426.49 L121.17,430.39 L116.77,430.39 Z" fill="none" stroke="#1414ff" stroke-width="0.95"/>
<path d="M121.85,421.88 L124.05,425.78 L119.65,425.78 Z" fill="none" stroke="#1414ff" stroke-width="0.95"/>
<path d="M126.25,415.28 L128.45,419.18 L124.05,419.18 Z" fill="none" stroke="#1414ff" stroke-width="0.95"/>
<path d="M130.35,409.86 L132.55,413.76 L128.15,413.76 Z" fill="none" stroke="#1414ff" stroke-width="0.95"/>
<path d="M137.68,403.55 L139.88,407.45 L135.48,407.45 Z" fill="none" stroke="#1414ff" stroke-width="0.95"/>
<path d="M141.94,398.42 L144.14,402.32 L139.74,402.32 Z" fill="none" stroke="#1414ff" stroke-width="0.95"/>
<path d="M142.2,398.42 L144.4,402.32 L140,402.32 Z" fill="none" stroke="#1414ff" stroke-width="0.95"/>
<path d="M150.56,393.29 L152.76,397.19 L148.36,397.19 Z" fill="none" stroke="#1414ff" stroke-width="0.95"/>
<path d="M159.06,390.35 L161.26,394.25 L156.86,394.25 Z" fill="none" stroke="#1414ff" stroke-width="0.95"/>
<path d="M168.59,386.69 L170.79,390.59 L166.39,390.59 Z" fill="none" stroke="#1414ff" stroke-width="0.95"/>
<path d="M179.59,384.49 L181.79,388.39 L177.39,388.39 Z" fill="none" stroke="#1414ff" stroke-width="0.95"/>
<path d="M224.75,381.56 L226.95,385.46 L222.55,385.46 Z" fill="none" stroke="#1414ff" stroke-width="0.95"/>
<path d="M224.84,381.56 L227.04,385.46 L222.64,385.46 Z" fill="none" stroke="#1414ff" stroke-width="0.95"/>
<path d="M299.62,378.62 L301.82,382.52 L297.42,382.52 Z" fill="none" stroke="#1414ff" stroke-width="0.95"/>
<path d="M57.76,509.54 L59.96,505.64 L55.56,505.64 Z" fill="none" stroke="#ff00ff" stroke-width="0.95"/>
<path d="M61.03,500.4 L63.23,496.5 L58.83,496.5 Z" fill="none" stroke="#ff00ff" stroke-width="0.95"/>
<path d="M64.14,488.51 L66.34,484.61 L61.94,484.61 Z" fill="none" stroke="#ff00ff" stroke-width="0.95"/>
<path d="M67.93,477.64 L70.13,473.74 L65.73,473.74 Z" fill="none" stroke="#ff00ff" stroke-width="0.95"/>
<path d="M70,472.47 L72.2,468.57 L67.8,468.57 Z" fill="none" stroke="#ff00ff" stroke-width="0.95"/>
<path d="M71.03,465.92 L73.23,462.02 L68.83,462.02 Z" fill="none" stroke="#ff00ff" stroke-width="0.95"/>
<path d="M73.45,454.71 L75.65,450.81 L71.25,450.81 Z" fill="none" stroke="#ff00ff" stroke-width="0.95"/>
<path d="M78.62,443.51 L80.82,439.61 L76.42,439.61 Z" fill="none" stroke="#ff00ff" stroke-width="0.95"/>
<path d="M81.38,431.96 L83.58,428.06 L79.18,428.06 Z" fill="none" stroke="#ff00ff" stroke-width="0.95"/>
<path d="M81.14,432 L82.84,428.98 L79.43,428.98 Z" fill="none" stroke="#ff00ff" stroke-width="0.85"/>
<path d="M81.86,428.62 L83.56,425.6 L80.15,425.6 Z" fill="none" stroke="#ff00ff" stroke-width="0.85"/>
<path d="M82.22,425.24 L83.93,422.21 L80.52,422.21 Z" fill="none" stroke="#ff00ff" stroke-width="0.85"/>
<path d="M82.58,421.85 L84.29,418.83 L80.88,418.83 Z" fill="none" stroke="#ff00ff" stroke-width="0.85"/>
<path d="M82.95,418.47 L84.65,415.45 L81.24,415.45 Z" fill="none" stroke="#ff00ff" stroke-width="0.85"/>
<path d="M83.43,415.09 L85.13,412.07 L81.72,412.07 Z" fill="none" stroke="#ff00ff" stroke-width="0.85"/>
<path d="M84.03,411.71 L85.74,408.69 L82.33,408.69 Z" fill="none" stroke="#ff00ff" stroke-width="0.85"/>
<path d="M84.76,408.45 L86.46,405.43 L83.05,405.43 Z" fill="none" stroke="#ff00ff" stroke-width="0.85"/>
<path d="M85.24,405.07 L86.95,402.05 L83.54,402.05 Z" fill="none" stroke="#ff00ff" stroke-width="0.85"/>
<path d="M85.6,401.69 L87.31,398.66 L83.9,398.66 Z" fill="none" stroke="#ff00ff" stroke-width="0.85"/>
<path d="M86.09,398.3 L87.79,395.28 L84.38,395.28 Z" fill="none" stroke="#ff00ff" stroke-width="0.85"/>
<path d="M86.69,395.16 L88.4,392.14 L84.99,392.14 Z" fill="none" stroke="#ff00ff" stroke-width="0.85"/>
<path d="M87.42,391.9 L89.12,388.88 L85.71,388.88 Z" fill="none" stroke="#ff00ff" stroke-width="0.85"/>
<path d="M88.38,388.76 L90.09,385.74 L86.68,385.74 Z" fill="none" stroke="#ff00ff" stroke-width="0.85"/>
<path d="M89.11,385.86 L90.81,382.84 L87.4,382.84 Z" fill="none" stroke="#ff00ff" stroke-width="0.85"/>
<path d="M89.83,382.72 L91.54,379.7 L88.13,379.7 Z" fill="none" stroke="#ff00ff" stroke-width="0.85"/>
<path d="M90.43,379.83 L92.14,376.8 L88.73,376.8 Z" fill="none" stroke="#ff00ff" stroke-width="0.85"/>
<path d="M91.16,377.17 L92.86,374.15 L89.45,374.15 Z" fill="none" stroke="#ff00ff" stroke-width="0.85"/>
<path d="M91.88,374.75 L93.59,371.73 L90.18,371.73 Z" fill="none" stroke="#ff00ff" stroke-width="0.85"/>
<path d="M92.85,372.58 L94.56,369.56 L91.15,369.56 Z" fill="none" stroke="#ff00ff" stroke-width="0.85"/>
<path d="M54.5,401.4 H311.6" stroke="#000" stroke-width="1.6" stroke-dasharray="11.5,4.6" stroke-dashoffset="13.6" fill="none"/>
<path d="M183.1,351.2 V450.6" stroke="#000" stroke-width="1.6" stroke-dasharray="13.9,7.7" fill="none"/>
<rect x="233.2" y="413.7" width="75.9" height="95.3" fill="#fff" stroke="#000" stroke-width="1.2"/>
<rect x="244.07" y="418.97" width="3.06" height="3.06" fill="none" stroke="#000" stroke-width="0.8"/>
<text x="259.9" y="423.7" font-size="9.7" text-anchor="start" >F1-2</text>
<circle cx="245.6" cy="432.3" r="1.7" fill="none" stroke="#ff1a1a" stroke-width="0.8"/>
<text x="259.9" y="435.5" font-size="9.7" text-anchor="start" >F1-3</text>
<path d="M245.6,441.94 L247.47,445.26 L243.73,445.26 Z" fill="none" stroke="#1414ff" stroke-width="0.8"/>
<text x="259.9" y="447.1" font-size="9.7" text-anchor="start" >F2-2</text>
<path d="M245.6,457.65 L247.47,454.34 L243.73,454.34 Z" fill="none" stroke="#ff00ff" stroke-width="0.8"/>
<text x="259.9" y="458.9" font-size="9.7" text-anchor="start" >F2-3</text>
<path d="M234.2,467 H257" stroke="#000" stroke-width="1.3" fill="none"/>
<text x="259.9" y="470.2" font-size="9.7" text-anchor="start" >F1-2 (FEM)</text>
<path d="M234.2,478.8 H257" stroke="#ff1a1a" stroke-width="1.3" fill="none"/>
<text x="259.9" y="482" font-size="9.7" text-anchor="start" >F1-3 (FEM)</text>
<path d="M234.2,490.4 H257" stroke="#1414ff" stroke-width="1.3" fill="none"/>
<text x="259.9" y="493.6" font-size="9.7" text-anchor="start" >F2-2 (FEM)</text>
<path d="M234.2,502.2 H257" stroke="#ff00ff" stroke-width="1.3" fill="none"/>
<text x="259.9" y="505.4" font-size="9.7" text-anchor="start" >F2-3 (FEM)</text>
<path d="M118.9,436.9 H167.3 M118.9,436.9 V512.5 M111.1,512.5 H167.3 M161.8,436.9 V454.6 H227.7 V495.1 H161.8 V512.5" fill="none" stroke="#000" stroke-width="1.5" stroke-linejoin="miter" stroke-linecap="square"/>
<path d="M118.9,465.5 H223.1 M118.9,477.5 H223.1" stroke="#808080" stroke-width="1.4" fill="none"/>
<path d="M157.7,465.5 H164.7 M178.2,465.5 H185.3 M157.7,477.5 H164.7 M178.2,477.5 H185.3" stroke="#808080" stroke-width="3.2" fill="none"/>
<path d="M139.7,436.9 L140.5,431.7 L142.3,442.1 L143.1,436.9" fill="none" stroke="#000" stroke-width="1.5" stroke-linejoin="round"/>
<path d="M139.7,512.5 L140.5,507.3 L142.3,517.7 L143.1,512.5" fill="none" stroke="#000" stroke-width="1.5" stroke-linejoin="round"/>
<text x="135.7" y="461.4" font-size="11.3" text-anchor="start" >F2-2</text>
<text x="136.7" y="489.4" font-size="11.3" text-anchor="start" >F1-2</text>
<text x="126" y="503.7" font-size="11.3" text-anchor="start" >Beam</text>
<text x="188.4" y="464.9" font-size="11.3" text-anchor="start" >F2-3</text>
<text x="185.3" y="489.4" font-size="11.3" text-anchor="start" >F1-3</text>
<path d="M54.5,520.6 v-4.5 M54.5,350.3 v4.5 M70.57,520.6 v-2.6 M70.57,350.3 v2.6 M86.64,520.6 v-4.5 M86.64,350.3 v4.5 M102.71,520.6 v-2.6 M102.71,350.3 v2.6 M118.78,520.6 v-4.5 M118.78,350.3 v4.5 M134.84,520.6 v-2.6 M134.84,350.3 v2.6 M150.91,520.6 v-4.5 M150.91,350.3 v4.5 M166.98,520.6 v-2.6 M166.98,350.3 v2.6 M183.05,520.6 v-4.5 M183.05,350.3 v4.5 M199.12,520.6 v-2.6 M199.12,350.3 v2.6 M215.19,520.6 v-4.5 M215.19,350.3 v4.5 M231.26,520.6 v-2.6 M231.26,350.3 v2.6 M247.33,520.6 v-4.5 M247.33,350.3 v4.5 M263.39,520.6 v-2.6 M263.39,350.3 v2.6 M279.46,520.6 v-4.5 M279.46,350.3 v4.5 M295.53,520.6 v-2.6 M295.53,350.3 v2.6 M311.6,520.6 v-4.5 M311.6,350.3 v4.5 M54.5,520.6 h4.5 M54.5,506.41 h2.6 M54.5,492.22 h4.5 M54.5,478.03 h2.6 M54.5,463.83 h4.5 M54.5,449.64 h2.6 M54.5,435.45 h4.5 M54.5,421.26 h2.6 M54.5,407.07 h4.5 M54.5,392.88 h2.6 M54.5,378.68 h4.5 M54.5,364.49 h2.6 M54.5,350.3 h4.5 " fill="none" stroke="#000" stroke-width="1.1"/>
<path d="M54.5,350.3 H311.6 V520.6" fill="none" stroke="#000" stroke-width="1.15" stroke-linecap="square"/>
<path d="M54.5,350.3 V520.6 H311.6" fill="none" stroke="#000" stroke-width="1.3" stroke-linecap="square"/>
<text x="54.5" y="346.5" font-size="13.3" text-anchor="middle" >0</text>
<text x="86.64" y="346.5" font-size="13.3" text-anchor="middle" >100</text>
<text x="118.78" y="346.5" font-size="13.3" text-anchor="middle" >200</text>
<text x="150.91" y="346.5" font-size="13.3" text-anchor="middle" >300</text>
<text x="183.05" y="346.5" font-size="13.3" text-anchor="middle" >400</text>
<text x="215.19" y="346.5" font-size="13.3" text-anchor="middle" >500</text>
<text x="247.33" y="346.5" font-size="13.3" text-anchor="middle" >600</text>
<text x="279.46" y="346.5" font-size="13.3" text-anchor="middle" >700</text>
<text x="311.6" y="346.5" font-size="13.3" text-anchor="middle" >800</text>
<text x="86.64" y="533.3" font-size="13.3" text-anchor="middle" >500</text>
<text x="118.78" y="533.3" font-size="13.3" text-anchor="middle" >1000</text>
<text x="150.91" y="533.3" font-size="13.3" text-anchor="middle" >1500</text>
<text x="183.05" y="533.3" font-size="13.3" text-anchor="middle" >2000</text>
<text x="215.19" y="533.3" font-size="13.3" text-anchor="middle" >2500</text>
<text x="247.33" y="533.3" font-size="13.3" text-anchor="middle" >3000</text>
<text x="279.46" y="533.3" font-size="13.3" text-anchor="middle" >3500</text>
<text x="311.6" y="533.3" font-size="13.3" text-anchor="middle" >4000</text>
<text x="49.1" y="525.12" font-size="13.3" text-anchor="end" >0</text>
<text x="49.1" y="496.74" font-size="13.3" text-anchor="end" >500</text>
<text x="49.1" y="468.36" font-size="13.3" text-anchor="end" >1000</text>
<text x="49.1" y="439.97" font-size="13.3" text-anchor="end" >1500</text>
<text x="49.1" y="411.59" font-size="13.3" text-anchor="end" >2000</text>
<text x="49.1" y="383.21" font-size="13.3" text-anchor="end" >2500</text>
<text x="49.1" y="354.82" font-size="13.3" text-anchor="end" >3000</text>
<text x="191.6" y="374.5" font-size="19.5"><tspan font-style="italic">f</tspan><tspan font-style="italic" font-size="11.7" dy="3.9">y</tspan><tspan dy="-3.9">= 400 MPa</tspan></text>
<text x="79.5" y="399.2" font-size="19.6"><tspan font-style="italic">F</tspan><tspan font-style="italic" font-size="12.94" dy="4.31">y</tspan><tspan dy="-4.31">=2,142 kN</tspan></text>
<text x="181" y="331.4" font-size="16.35" text-anchor="middle" >Rebar compressive stress (MPa)</text>
<text x="180" y="547.5" font-size="16.6" text-anchor="middle">Rebar strain (×10<tspan font-size="9.3" dy="-7.6">-6</tspan><tspan dy="7.6">)</tspan></text>
<text transform="translate(18,429) rotate(-90)" font-size="15.8" text-anchor="middle">Load (kN)</text>
<text x="16.8" y="573" font-size="17"><tspan font-weight="bold">c</tspan><tspan dx="8.8">Third-row longitudinal rebars of the strut</tspan></text>
</g>
<g id="panel-d">
<path d="M427.97,352 V518.9 M443.54,352 V518.9 M459.11,352 V518.9 M474.67,352 V518.9 M490.24,352 V518.9 M505.81,352 V518.9 M521.38,352 V518.9 M536.95,352 V518.9 M552.52,352 V518.9 M568.09,352 V518.9 M583.66,352 V518.9 M599.23,352 V518.9 M614.79,352 V518.9 M630.36,352 V518.9 M645.93,352 V518.9 M412.4,504.99 H661.5 M412.4,491.08 H661.5 M412.4,477.17 H661.5 M412.4,463.27 H661.5 M412.4,449.36 H661.5 M412.4,435.45 H661.5 M412.4,421.54 H661.5 M412.4,407.63 H661.5 M412.4,393.73 H661.5 M412.4,379.82 H661.5 M412.4,365.91 H661.5 " fill="none" stroke="#c8c8c8" stroke-width="0.8" stroke-dasharray="3.2,2.6"/>
<path d="M412.36,449.12 C412.66,448.91 413.45,448.67 414.2,447.89 C414.95,447.11 416.07,446.19 416.85,444.42 C417.64,442.64 418.32,439.48 418.9,437.26 C419.48,435.05 419.95,433 420.33,431.13 C420.7,429.26 421.01,426.94 421.15,426.02 C421.28,425.11 420.77,426.56 421.13,425.65 C421.49,424.73 422.11,422.47 423.33,420.51 C424.55,418.56 426.63,415.99 428.46,413.91 C430.29,411.84 432.13,409.88 434.33,408.05 C436.52,406.22 439.46,404.26 441.66,402.92 C443.86,401.57 445.57,401.09 447.52,399.99 C449.48,398.89 450.7,397.66 453.39,396.32 C456.08,394.98 460.23,393.14 463.65,391.92 C467.07,390.7 470.49,389.84 473.91,388.99 C477.34,388.13 481,387.52 484.18,386.79 C487.36,386.06 490.29,385.44 492.98,384.59 C495.66,383.73 498.3,382.51 500.31,381.66 C502.31,380.8 503.3,380.14 505,379.46 C506.7,378.77 508.75,378.16 510.53,377.55 C512.3,376.94 512.97,375.79 515.66,375.79 C518.35,375.79 523.24,377.01 526.66,377.55 C530.08,378.09 534.53,379.92 536.19,379.02 C537.85,378.11 535.28,374.13 536.63,372.13 C537.97,370.12 544.69,367.97 544.25,366.99 C543.81,366.02 538.14,366.38 533.99,366.26 C529.83,366.14 524.21,366.19 519.33,366.26 C514.44,366.33 509.55,366.53 504.66,366.7 C499.78,366.87 491.95,367.24 490,367.29 C488.05,367.34 494.19,366.92 492.98,366.99 C491.76,367.07 484.79,367.36 482.71,367.73 C480.64,368.09 480.51,368.58 480.51,369.19 C480.51,369.8 481.12,370.66 482.71,371.39 C484.3,372.13 487.36,372.98 490.04,373.59 C492.73,374.2 496.35,374.64 498.84,375.06 C501.33,375.47 505.01,375.96 505,376.09 C504.99,376.21 498.37,375.72 498.8,375.79 C499.23,375.87 505.03,376.6 507.6,376.52 C510.16,376.45 514.19,375.62 514.19,375.35 C514.19,375.08 510.16,375.03 507.6,374.91 C505.03,374.79 500.26,374.67 498.8,374.62" fill="none" stroke="#000" stroke-width="1.0" stroke-linejoin="round" stroke-linecap="round" />
<path d="M490,374.33 C491.96,374.52 497.58,375.13 501.73,375.5 C505.88,375.87 510.77,376.11 514.93,376.52 C519.08,376.94 523.04,377.5 526.66,377.99 C530.27,378.48 534.97,379.21 536.63,379.46" fill="none" stroke="#000" stroke-width="1.0" stroke-linejoin="round" stroke-linecap="round" />
<path d="M412.36,441.35 C413.17,440.84 415.42,439.65 417.26,438.28 C419.1,436.92 421.35,435.05 423.39,433.17 C425.44,431.3 428.44,428.42 429.52,427.04 C430.61,425.67 428.88,426.37 429.93,424.91 C430.97,423.46 433.84,420.39 435.79,418.31 C437.75,416.24 439.95,414.28 441.66,412.45 C443.37,410.62 444.96,408.91 446.06,407.32 C447.16,405.73 447.89,404.51 448.26,402.92 C448.62,401.33 448.01,399.5 448.26,397.79 C448.5,396.08 448.87,394.12 449.72,392.65 C450.58,391.19 451.55,389.79 453.39,388.99 C455.22,388.18 457.79,388.11 460.72,387.82 C463.65,387.52 467.56,387.45 470.98,387.23 C474.4,387.01 477.58,386.81 481.25,386.5 C484.91,386.18 489.02,385.69 492.98,385.32 C496.94,384.96 503.05,384.54 505,384.3 C506.95,384.05 502.28,384.3 504.66,383.86 C507.05,383.42 514,382.39 519.33,381.66 C524.65,380.92 531.74,379.95 536.63,379.46 C541.52,378.97 544.2,378.97 548.65,378.72 C553.1,378.48 558.43,378.11 563.31,377.99 C568.2,377.87 573.53,377.99 577.98,377.99 C582.42,377.99 588.05,377.99 590,377.99 C591.95,377.99 587.28,377.87 589.66,377.99 C592.05,378.11 599.44,378.48 604.33,378.72 C609.21,378.97 614.1,379.29 618.99,379.46 C623.88,379.63 628.76,379.82 633.65,379.75 C638.54,379.68 643.62,379.38 648.31,379.02 C653.01,378.65 659.56,377.8 661.8,377.55" fill="none" stroke="#ff1a1a" stroke-width="1.15" stroke-linejoin="round" stroke-linecap="round" />
<rect x="437.94" y="427.29" width="3.6" height="3.6" fill="none" stroke="#000" stroke-width="0.95"/>
<rect x="433.24" y="438.53" width="3.6" height="3.6" fill="none" stroke="#000" stroke-width="0.95"/>
<rect x="422" y="449.77" width="3.6" height="3.6" fill="none" stroke="#000" stroke-width="0.95"/>
<rect x="415.87" y="461.01" width="3.6" height="3.6" fill="none" stroke="#000" stroke-width="0.95"/>
<rect x="415.05" y="466.73" width="3.6" height="3.6" fill="none" stroke="#000" stroke-width="0.95"/>
<rect x="413.83" y="471.84" width="3.6" height="3.6" fill="none" stroke="#000" stroke-width="0.95"/>
<rect x="438.39" y="427.51" width="3.6" height="3.6" fill="none" stroke="#000" stroke-width="0.95"/>
<rect x="443.08" y="422.38" width="3.6" height="3.6" fill="none" stroke="#000" stroke-width="0.95"/>
<rect x="446.02" y="416.22" width="3.6" height="3.6" fill="none" stroke="#000" stroke-width="0.95"/>
<rect x="451.29" y="411.09" width="3.6" height="3.6" fill="none" stroke="#000" stroke-width="0.95"/>
<rect x="458.63" y="405.08" width="3.6" height="3.6" fill="none" stroke="#000" stroke-width="0.95"/>
<rect x="466.25" y="400.09" width="3.6" height="3.6" fill="none" stroke="#000" stroke-width="0.95"/>
<rect x="466.25" y="394.23" width="3.6" height="3.6" fill="none" stroke="#000" stroke-width="0.95"/>
<rect x="462.58" y="390.85" width="3.6" height="3.6" fill="none" stroke="#000" stroke-width="0.95"/>
<rect x="471.38" y="386.16" width="3.6" height="3.6" fill="none" stroke="#000" stroke-width="0.95"/>
<rect x="530.72" y="382.5" width="3.6" height="3.6" fill="none" stroke="#000" stroke-width="0.95"/>
<rect x="534.83" y="372.09" width="3.6" height="3.6" fill="none" stroke="#000" stroke-width="0.95"/>
<rect x="534.83" y="370.33" width="3.6" height="3.6" fill="none" stroke="#000" stroke-width="0.95"/>
<circle cx="437.09" cy="429.09" r="2" fill="none" stroke="#ff1a1a" stroke-width="0.95"/>
<circle cx="431.16" cy="440.33" r="2" fill="none" stroke="#ff1a1a" stroke-width="0.95"/>
<circle cx="422.58" cy="451.57" r="2" fill="none" stroke="#ff1a1a" stroke-width="0.95"/>
<circle cx="416.85" cy="462.81" r="2" fill="none" stroke="#ff1a1a" stroke-width="0.95"/>
<circle cx="415.63" cy="468.94" r="2" fill="none" stroke="#ff1a1a" stroke-width="0.95"/>
<circle cx="414.4" cy="474.05" r="2" fill="none" stroke="#ff1a1a" stroke-width="0.95"/>
<circle cx="414.2" cy="485.29" r="2" fill="none" stroke="#ff1a1a" stroke-width="0.95"/>
<circle cx="412.97" cy="496.53" r="2" fill="none" stroke="#ff1a1a" stroke-width="0.95"/>
<circle cx="412.97" cy="506.75" r="2" fill="none" stroke="#ff1a1a" stroke-width="0.95"/>
<circle cx="412.77" cy="512.88" r="2" fill="none" stroke="#ff1a1a" stroke-width="0.95"/>
<circle cx="437.26" cy="429.31" r="2" fill="none" stroke="#ff1a1a" stroke-width="0.95"/>
<circle cx="442.39" cy="424.18" r="2" fill="none" stroke="#ff1a1a" stroke-width="0.95"/>
<circle cx="444.3" cy="418.31" r="2" fill="none" stroke="#ff1a1a" stroke-width="0.95"/>
<circle cx="447.08" cy="412.74" r="2" fill="none" stroke="#ff1a1a" stroke-width="0.95"/>
<circle cx="453.39" cy="406.88" r="2" fill="none" stroke="#ff1a1a" stroke-width="0.95"/>
<circle cx="465.12" cy="402.18" r="2" fill="none" stroke="#ff1a1a" stroke-width="0.95"/>
<circle cx="465.41" cy="396.03" r="2" fill="none" stroke="#ff1a1a" stroke-width="0.95"/>
<circle cx="462.18" cy="390.16" r="2" fill="none" stroke="#ff1a1a" stroke-width="0.95"/>
<circle cx="468.34" cy="388.26" r="2" fill="none" stroke="#ff1a1a" stroke-width="0.95"/>
<circle cx="514.93" cy="384.88" r="2" fill="none" stroke="#ff1a1a" stroke-width="0.95"/>
<circle cx="529.88" cy="382.83" r="2" fill="none" stroke="#ff1a1a" stroke-width="0.95"/>
<circle cx="544.99" cy="379.9" r="2" fill="none" stroke="#ff1a1a" stroke-width="0.95"/>
<circle cx="559.35" cy="376.23" r="2" fill="none" stroke="#ff1a1a" stroke-width="0.95"/>
<circle cx="572.84" cy="373.89" r="2" fill="none" stroke="#ff1a1a" stroke-width="0.95"/>
<circle cx="579.44" cy="372.13" r="2" fill="none" stroke="#ff1a1a" stroke-width="0.95"/>
<circle cx="579.69" cy="372.42" r="2" fill="none" stroke="#ff1a1a" stroke-width="0.95"/>
<path d="M412.4,400 H661.5" stroke="#000" stroke-width="1.6" stroke-dasharray="10.8,6.5" stroke-dashoffset="3.5" fill="none"/>
<path d="M536.6,352 V365.5 M536.6,373.7 V387.2 M536.6,395.2 V408.7 M536.6,416.7 V430.2 M536.6,438.2 V451.7 M536.6,457 V467.3 M536.6,508.2 V518.9" stroke="#000" stroke-width="1.6" fill="none"/>
<rect x="566.9" y="463" width="76.2" height="47.3" fill="#fff" stroke="#000" stroke-width="1.2"/>
<rect x="577.97" y="468.37" width="3.06" height="3.06" fill="none" stroke="#000" stroke-width="0.8"/>
<text x="592.7" y="473.1" font-size="9.7" text-anchor="start" >G1-1</text>
<circle cx="579.5" cy="481.3" r="1.7" fill="none" stroke="#ff1a1a" stroke-width="0.8"/>
<text x="592.7" y="484.5" font-size="9.7" text-anchor="start" >G1-2</text>
<path d="M568.1,492.3 H590" stroke="#000" stroke-width="1.3" fill="none"/>
<text x="592.7" y="495.5" font-size="9.7" text-anchor="start" >G1-1 (FEM)</text>
<path d="M568.1,504 H590" stroke="#ff1a1a" stroke-width="1.3" fill="none"/>
<text x="592.7" y="507.2" font-size="9.7" text-anchor="start" >G1-2 (FEM)</text>
<path d="M426.9,473 H533.8 M426.9,497.8 H533.8" stroke="#8c8c8c" stroke-width="2.3" fill="none"/>
<path d="M426.9,477.7 H533.8 M468.4,470.4 V500.6 M490.4,470.4 V500.6" stroke="#858585" stroke-width="1.1" fill="none"/>
<path d="M468.4,482.8 V488.4 M490.4,482.8 V488.4" stroke="#808080" stroke-width="2.6" fill="none"/>
<path d="M426.9,467.9 V507.4 M426.9,470.4 H536.4 V500.6 H468.4 V504.1 H426.9" fill="none" stroke="#000" stroke-width="1.5" stroke-linejoin="miter"/>
<path d="M422.4,490 H425.5 L426.4,488.6 L427.4,491.4 L428.3,490 H431" fill="none" stroke="#000" stroke-width="1.4"/>
<text x="432" y="485.9" font-size="10.8" text-anchor="start" >Beam</text>
<text x="452.4" y="495.5" font-size="10.8" text-anchor="start" >G1-1</text>
<text x="482.7" y="495.5" font-size="10.8" text-anchor="start" >G1-2</text>
<text x="504.5" y="485.9" font-size="10.8" text-anchor="start" >Strut</text>
<path d="M412.4,518.9 v-4.5 M412.4,352 v4.5 M427.97,518.9 v-2.6 M427.97,352 v2.6 M443.54,518.9 v-4.5 M443.54,352 v4.5 M459.11,518.9 v-2.6 M459.11,352 v2.6 M474.67,518.9 v-4.5 M474.67,352 v4.5 M490.24,518.9 v-2.6 M490.24,352 v2.6 M505.81,518.9 v-4.5 M505.81,352 v4.5 M521.38,518.9 v-2.6 M521.38,352 v2.6 M536.95,518.9 v-4.5 M536.95,352 v4.5 M552.52,518.9 v-2.6 M552.52,352 v2.6 M568.09,518.9 v-4.5 M568.09,352 v4.5 M583.66,518.9 v-2.6 M583.66,352 v2.6 M599.23,518.9 v-4.5 M599.23,352 v4.5 M614.79,518.9 v-2.6 M614.79,352 v2.6 M630.36,518.9 v-4.5 M630.36,352 v4.5 M645.93,518.9 v-2.6 M645.93,352 v2.6 M661.5,518.9 v-4.5 M661.5,352 v4.5 M412.4,518.9 h4.5 M412.4,504.99 h2.6 M412.4,491.08 h4.5 M412.4,477.17 h2.6 M412.4,463.27 h4.5 M412.4,449.36 h2.6 M412.4,435.45 h4.5 M412.4,421.54 h2.6 M412.4,407.63 h4.5 M412.4,393.73 h2.6 M412.4,379.82 h4.5 M412.4,365.91 h2.6 M412.4,352 h4.5 " fill="none" stroke="#000" stroke-width="1.1"/>
<path d="M412.4,352 H661.5 V518.9" fill="none" stroke="#000" stroke-width="1.15" stroke-linecap="square"/>
<path d="M412.4,352 V518.9 H661.5" fill="none" stroke="#000" stroke-width="1.3" stroke-linecap="square"/>
<path d="M412.7,456 V518.9" stroke="#ff1a1a" stroke-width="1.3" fill="none"/>
<text x="412.4" y="347.7" font-size="13.3" text-anchor="middle" >0</text>
<text x="443.54" y="347.7" font-size="13.3" text-anchor="middle" >100</text>
<text x="474.67" y="347.7" font-size="13.3" text-anchor="middle" >200</text>
<text x="505.81" y="347.7" font-size="13.3" text-anchor="middle" >300</text>
<text x="536.95" y="347.7" font-size="13.3" text-anchor="middle" >400</text>
<text x="568.09" y="347.7" font-size="13.3" text-anchor="middle" >500</text>
<text x="599.23" y="347.7" font-size="13.3" text-anchor="middle" >600</text>
<text x="630.36" y="347.7" font-size="13.3" text-anchor="middle" >700</text>
<text x="661.5" y="347.7" font-size="13.3" text-anchor="middle" >800</text>
<text x="443.54" y="531.2" font-size="13.3" text-anchor="middle" >500</text>
<text x="474.67" y="531.2" font-size="13.3" text-anchor="middle" >1000</text>
<text x="505.81" y="531.2" font-size="13.3" text-anchor="middle" >1500</text>
<text x="536.95" y="531.2" font-size="13.3" text-anchor="middle" >2000</text>
<text x="568.09" y="531.2" font-size="13.3" text-anchor="middle" >2500</text>
<text x="599.23" y="531.2" font-size="13.3" text-anchor="middle" >3000</text>
<text x="630.36" y="531.2" font-size="13.3" text-anchor="middle" >3500</text>
<text x="661.5" y="531.2" font-size="13.3" text-anchor="middle" >4000</text>
<text x="406.4" y="523.42" font-size="13.3" text-anchor="end" >0</text>
<text x="406.4" y="495.61" font-size="13.3" text-anchor="end" >500</text>
<text x="406.4" y="467.79" font-size="13.3" text-anchor="end" >1000</text>
<text x="406.4" y="439.97" font-size="13.3" text-anchor="end" >1500</text>
<text x="406.4" y="412.16" font-size="13.3" text-anchor="end" >2000</text>
<text x="406.4" y="384.34" font-size="13.3" text-anchor="end" >2500</text>
<text x="406.4" y="356.52" font-size="13.3" text-anchor="end" >3000</text>
<text x="541.3" y="371.9" font-size="19.3"><tspan font-style="italic">f</tspan><tspan font-style="italic" font-size="11.58" dy="3.86">y</tspan><tspan dy="-3.86">= 400 MPa</tspan></text>
<text x="553" y="422.7" font-size="19"><tspan font-style="italic">F</tspan><tspan font-style="italic" font-size="12.54" dy="4.18">y</tspan><tspan dy="-4.18">=2,142 kN</tspan></text>
<text x="534" y="332.5" font-size="16.2" text-anchor="middle" >Rebar tensile stress (MPa)</text>
<text x="538.3" y="545.8" font-size="16.3" text-anchor="middle">Rebar strain (×10<tspan font-size="9.3" dy="-7.6">-6</tspan><tspan dy="7.6">)</tspan></text>
<text transform="translate(376.8,432.5) rotate(-90)" font-size="15.3" text-anchor="middle">Load (kN)</text>
<text x="407" y="572.7" font-size="17.1"><tspan font-weight="bold">d</tspan><tspan dx="9">Transverse stirrups of the strut</tspan></text>
</g>
</svg>
</body></html>
